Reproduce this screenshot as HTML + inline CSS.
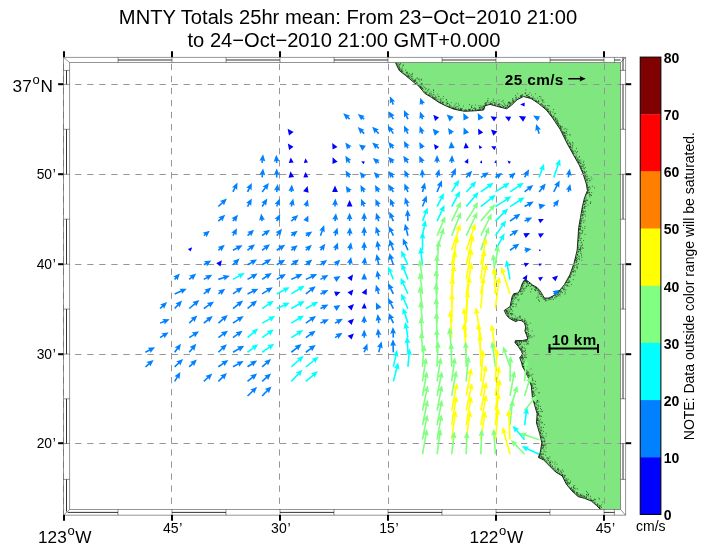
<!DOCTYPE html><html><head><meta charset="utf-8"><title>MNTY Totals</title>
<style>html,body{margin:0;padding:0;background:#fff}svg{display:block;opacity:0.9999;will-change:transform}text{font-family:"Liberation Sans",sans-serif;fill:#000}</style></head><body>
<svg width="703" height="548" viewBox="0 0 703 548">
<rect width="703" height="548" fill="#fff"/>
<polygon points="395.4,62.5 399.2,70.4 405.6,75.5 413.3,81.9 418.4,85.7 424.8,93.4 431.2,97.2 438.9,102.4 446.6,106.2 454.2,109.3 464.5,111.3 474.7,110.8 483.7,110.0 485.0,105.7 490.1,104.4 496.5,106.2 506.7,108.8 511.8,104.9 517.0,99.8 523.4,96.5 531.0,98.5 538.7,103.6 546.4,110.0 552.4,117.7 560.1,129.2 567.0,143.2 574.1,156.0 579.2,165.0 583.1,173.9 586.4,184.1 587.4,190.5 584.4,198.2 582.3,207.1 580.5,217.4 578.7,227.6 578.0,237.8 577.2,250.0 574.1,263.0 570.0,274.5 564.4,284.7 558.0,292.4 553.1,295.9 548.8,298.0 544.6,298.2 542.8,295.4 540.3,291.1 536.8,287.3 532.6,285.1 528.7,281.7 525.7,279.8 524.0,280.4 521.9,284.3 520.6,288.6 518.4,292.9 513.7,293.7 512.0,297.1 511.1,301.4 510.1,306.6 506.9,308.7 504.3,310.4 506.0,314.3 508.6,317.7 512.9,320.3 515.9,321.6 518.4,320.2 521.4,320.7 524.4,322.6 525.7,326.9 524.9,331.1 526.6,335.0 527.8,339.3 522.3,340.6 515.4,340.6 515.0,342.7 518.4,346.6 521.4,351.3 522.7,354.3 519.7,357.7 521.4,362.0 522.7,367.0 524.7,370.4 527.8,376.6 531.3,385.9 532.3,396.5 534.4,404.4 537.1,413.7 536.5,423.0 539.7,433.6 541.8,442.8 540.3,452.1 538.4,457.4 543.7,460.0 549.0,465.3 555.6,472.0 562.2,475.9 566.2,483.9 571.5,490.5 578.1,496.6 584.7,498.4 591.4,501.1 596.6,505.6 600.5,509.5 620.5,509.5 620.5,62.5" fill="#80e680"/>
<clipPath id="lc"><polygon points="395.4,62.5 399.2,70.4 405.6,75.5 413.3,81.9 418.4,85.7 424.8,93.4 431.2,97.2 438.9,102.4 446.6,106.2 454.2,109.3 464.5,111.3 474.7,110.8 483.7,110.0 485.0,105.7 490.1,104.4 496.5,106.2 506.7,108.8 511.8,104.9 517.0,99.8 523.4,96.5 531.0,98.5 538.7,103.6 546.4,110.0 552.4,117.7 560.1,129.2 567.0,143.2 574.1,156.0 579.2,165.0 583.1,173.9 586.4,184.1 587.4,190.5 584.4,198.2 582.3,207.1 580.5,217.4 578.7,227.6 578.0,237.8 577.2,250.0 574.1,263.0 570.0,274.5 564.4,284.7 558.0,292.4 553.1,295.9 548.8,298.0 544.6,298.2 542.8,295.4 540.3,291.1 536.8,287.3 532.6,285.1 528.7,281.7 525.7,279.8 524.0,280.4 521.9,284.3 520.6,288.6 518.4,292.9 513.7,293.7 512.0,297.1 511.1,301.4 510.1,306.6 506.9,308.7 504.3,310.4 506.0,314.3 508.6,317.7 512.9,320.3 515.9,321.6 518.4,320.2 521.4,320.7 524.4,322.6 525.7,326.9 524.9,331.1 526.6,335.0 527.8,339.3 522.3,340.6 515.4,340.6 515.0,342.7 518.4,346.6 521.4,351.3 522.7,354.3 519.7,357.7 521.4,362.0 522.7,367.0 524.7,370.4 527.8,376.6 531.3,385.9 532.3,396.5 534.4,404.4 537.1,413.7 536.5,423.0 539.7,433.6 541.8,442.8 540.3,452.1 538.4,457.4 543.7,460.0 549.0,465.3 555.6,472.0 562.2,475.9 566.2,483.9 571.5,490.5 578.1,496.6 584.7,498.4 591.4,501.1 596.6,505.6 600.5,509.5 620.5,509.5 620.5,62.5"/></clipPath>
<g clip-path="url(#lc)"><path d="M397.3 64.5h.1M398.2 66.2h.1M396.5 62.0h.1M400.1 64.1h.1M403.2 64.8h.1M399.7 69.9h.1M396.3 63.6h.1M397.9 63.0h.1M397.6 66.5h.1M399.1 67.3h.1M398.2 65.8h.1M398.1 63.8h.1M399.3 67.6h.1M399.5 64.5h.1M397.9 61.8h.1M399.8 69.0h.1M399.1 66.7h.1M399.1 65.3h.1M399.3 68.7h.1M396.6 61.8h.1M398.2 61.5h.1M400.4 63.7h.1M405.6 70.0h.1M401.7 71.0h.1M405.5 74.6h.1M401.7 70.2h.1M400.0 69.4h.1M406.9 73.4h.1M404.0 73.7h.1M406.8 72.2h.1M401.0 68.9h.1M400.8 70.7h.1M399.3 69.8h.1M402.1 67.0h.1M401.4 70.6h.1M402.9 71.3h.1M402.1 71.3h.1M403.1 65.6h.1M402.9 73.2h.1M406.2 72.7h.1M402.2 69.0h.1M402.0 71.8h.1M407.0 72.2h.1M408.3 75.4h.1M406.3 75.1h.1M414.1 80.8h.1M413.5 80.6h.1M407.7 76.4h.1M413.1 79.9h.1M408.0 74.4h.1M412.2 79.3h.1M410.6 75.0h.1M412.6 73.4h.1M407.2 76.0h.1M409.3 73.7h.1M409.2 76.1h.1M414.6 80.2h.1M411.8 74.9h.1M408.0 76.4h.1M408.2 76.4h.1M409.3 76.9h.1M412.1 74.3h.1M409.8 78.4h.1M407.6 72.9h.1M412.3 78.7h.1M411.7 76.6h.1M408.3 76.4h.1M412.1 76.7h.1M411.4 78.3h.1M410.2 77.3h.1M419.7 81.0h.1M419.8 79.2h.1M414.5 81.1h.1M415.3 80.5h.1M415.8 80.1h.1M421.7 80.1h.1M416.6 82.4h.1M415.0 81.3h.1M415.0 81.5h.1M416.7 82.8h.1M417.2 83.2h.1M421.3 79.1h.1M415.3 79.3h.1M418.6 79.4h.1M417.1 78.5h.1M414.1 81.9h.1M417.1 77.9h.1M421.7 84.0h.1M422.2 88.8h.1M420.6 87.2h.1M419.3 86.0h.1M421.3 87.3h.1M422.0 88.8h.1M420.4 87.4h.1M421.0 85.9h.1M424.7 91.3h.1M422.3 88.0h.1M423.6 86.1h.1M421.6 87.9h.1M420.9 84.2h.1M422.1 84.0h.1M420.7 87.3h.1M420.4 86.3h.1M425.9 92.3h.1M421.0 87.3h.1M422.5 88.3h.1M418.9 85.1h.1M418.8 85.6h.1M423.6 89.2h.1M426.2 88.4h.1M425.3 93.0h.1M421.8 83.7h.1M425.6 89.1h.1M424.7 87.4h.1M431.0 91.8h.1M426.2 93.9h.1M427.4 90.7h.1M430.1 93.4h.1M431.4 93.9h.1M429.4 95.4h.1M425.9 92.7h.1M433.3 89.8h.1M429.3 93.2h.1M428.9 95.3h.1M430.1 95.1h.1M425.7 93.0h.1M429.6 95.1h.1M428.3 94.5h.1M433.6 92.3h.1M433.5 90.5h.1M428.9 89.2h.1M426.9 92.2h.1M431.1 95.2h.1M428.6 90.0h.1M432.1 95.8h.1M432.8 97.2h.1M433.1 94.5h.1M440.1 99.7h.1M435.1 98.2h.1M434.6 97.7h.1M433.9 94.9h.1M433.6 97.6h.1M437.8 94.2h.1M439.1 96.4h.1M437.1 100.6h.1M438.1 99.0h.1M438.6 101.5h.1M435.4 96.2h.1M436.8 99.7h.1M432.7 97.8h.1M435.7 99.4h.1M434.8 98.8h.1M433.9 98.4h.1M438.2 96.4h.1M435.3 97.8h.1M432.5 96.5h.1M436.5 97.8h.1M433.7 97.9h.1M440.9 98.7h.1M440.6 100.1h.1M443.5 104.6h.1M447.3 101.8h.1M440.0 102.4h.1M447.4 103.7h.1M443.0 102.7h.1M443.0 98.6h.1M440.3 102.2h.1M440.0 102.5h.1M442.3 102.9h.1M442.1 102.3h.1M446.2 104.2h.1M447.3 103.4h.1M443.8 102.0h.1M446.2 100.0h.1M442.2 102.3h.1M446.3 102.7h.1M447.0 105.0h.1M441.8 100.8h.1M442.9 103.6h.1M446.4 99.5h.1M443.5 96.4h.1M440.2 101.7h.1M453.9 108.4h.1M452.5 108.1h.1M449.6 106.1h.1M449.4 105.8h.1M454.1 108.7h.1M453.1 107.5h.1M451.2 102.6h.1M453.5 108.8h.1M452.3 108.0h.1M454.1 108.5h.1M449.8 106.5h.1M449.5 104.4h.1M448.0 103.5h.1M453.7 108.8h.1M456.1 103.3h.1M450.7 105.9h.1M454.0 106.2h.1M451.5 107.0h.1M452.5 108.4h.1M448.4 106.6h.1M456.8 109.4h.1M461.6 109.3h.1M461.2 108.4h.1M461.4 110.0h.1M460.4 109.1h.1M456.7 109.2h.1M460.3 109.7h.1M459.8 109.6h.1M464.5 111.0h.1M463.5 106.0h.1M455.8 108.9h.1M464.2 110.0h.1M457.7 106.5h.1M460.6 108.3h.1M455.6 108.9h.1M460.8 109.8h.1M461.2 109.8h.1M462.5 108.9h.1M458.7 108.1h.1M456.3 107.0h.1M458.4 104.0h.1M458.3 109.0h.1M458.2 109.1h.1M455.1 104.9h.1M459.2 105.6h.1M454.8 107.8h.1M455.4 107.4h.1M466.0 110.6h.1M465.7 109.9h.1M466.8 110.9h.1M469.7 110.6h.1M473.8 108.5h.1M472.4 110.3h.1M472.8 110.1h.1M469.5 109.7h.1M471.4 106.4h.1M472.4 110.3h.1M470.6 109.1h.1M468.6 109.2h.1M468.7 109.8h.1M469.6 110.4h.1M469.1 110.2h.1M465.5 109.8h.1M469.8 110.4h.1M471.8 107.5h.1M469.9 109.6h.1M471.6 107.7h.1M469.5 104.6h.1M472.0 105.5h.1M472.4 110.2h.1M472.8 110.6h.1M466.6 110.2h.1M464.6 110.9h.1M480.2 105.9h.1M475.7 108.9h.1M482.4 108.5h.1M480.4 108.9h.1M483.4 108.2h.1M478.8 109.5h.1M482.1 109.6h.1M479.7 107.7h.1M475.0 110.1h.1M478.7 105.7h.1M480.2 109.8h.1M475.4 109.6h.1M480.0 109.6h.1M475.3 105.0h.1M475.6 108.7h.1M477.9 109.7h.1M479.7 109.2h.1M482.7 107.5h.1M474.9 108.9h.1M474.7 107.6h.1M482.9 109.5h.1M479.3 108.0h.1M477.1 109.8h.1M481.8 106.1h.1M483.4 106.3h.1M483.3 108.6h.1M481.4 107.9h.1M483.8 106.6h.1M482.9 106.2h.1M484.5 105.3h.1M483.4 108.9h.1M483.9 106.4h.1M479.5 107.7h.1M480.8 107.1h.1M486.6 102.4h.1M485.3 103.6h.1M485.4 105.4h.1M486.3 104.4h.1M488.1 102.8h.1M484.8 103.9h.1M487.8 100.5h.1M488.0 98.7h.1M485.7 105.4h.1M487.4 101.2h.1M485.5 104.9h.1M486.0 103.8h.1M485.7 102.6h.1M489.7 102.9h.1M490.6 103.4h.1M493.1 102.3h.1M495.9 105.3h.1M490.5 104.0h.1M490.6 103.1h.1M491.6 103.4h.1M493.2 99.1h.1M494.8 104.2h.1M491.6 101.6h.1M494.4 104.4h.1M496.2 105.3h.1M491.9 103.9h.1M493.6 100.8h.1M494.5 102.6h.1M492.4 104.2h.1M494.9 102.8h.1M495.4 103.9h.1M505.5 107.6h.1M504.4 104.1h.1M499.3 105.6h.1M500.3 106.5h.1M498.9 100.1h.1M507.5 105.5h.1M498.8 104.4h.1M500.5 107.0h.1M504.1 106.4h.1M498.4 104.7h.1M506.1 107.4h.1M501.1 106.8h.1M505.2 105.8h.1M503.3 106.5h.1M498.0 105.3h.1M503.1 107.0h.1M503.3 106.8h.1M499.1 104.4h.1M503.0 100.4h.1M499.2 103.5h.1M498.0 104.7h.1M502.5 105.4h.1M502.0 101.6h.1M501.0 104.6h.1M500.1 106.7h.1M496.9 105.1h.1M500.1 106.4h.1M506.3 107.2h.1M508.0 106.8h.1M509.5 103.9h.1M503.7 102.8h.1M508.7 102.7h.1M509.4 106.1h.1M510.4 104.6h.1M508.2 106.7h.1M507.5 107.0h.1M507.6 105.3h.1M508.8 102.2h.1M509.2 102.9h.1M509.4 106.3h.1M509.3 105.4h.1M505.9 105.2h.1M509.1 102.9h.1M508.0 104.1h.1M508.2 102.8h.1M512.5 100.4h.1M513.9 101.2h.1M514.1 101.9h.1M513.3 101.5h.1M509.2 102.2h.1M512.5 98.8h.1M516.6 99.8h.1M510.6 103.5h.1M513.6 100.9h.1M513.9 99.9h.1M512.7 102.1h.1M511.9 102.9h.1M515.6 99.9h.1M513.8 102.0h.1M512.8 99.1h.1M512.1 102.1h.1M510.3 102.8h.1M511.1 103.8h.1M522.0 95.1h.1M521.9 95.0h.1M520.6 95.5h.1M520.8 96.1h.1M518.2 99.1h.1M520.9 96.8h.1M520.1 97.1h.1M518.5 97.8h.1M516.2 97.7h.1M521.6 95.4h.1M516.6 98.9h.1M522.5 95.0h.1M520.6 96.7h.1M515.7 97.9h.1M515.4 95.5h.1M521.4 96.5h.1M516.0 97.1h.1M521.5 97.1h.1M517.3 93.7h.1M528.6 97.7h.1M529.6 97.8h.1M525.7 92.7h.1M526.6 95.5h.1M525.3 93.7h.1M528.5 96.6h.1M531.4 95.2h.1M525.8 89.8h.1M526.7 95.4h.1M528.2 97.0h.1M527.0 95.1h.1M529.5 97.1h.1M527.3 95.7h.1M524.9 93.2h.1M528.2 96.9h.1M529.8 92.8h.1M528.3 94.5h.1M530.8 97.7h.1M527.0 96.9h.1M529.5 96.8h.1M529.5 97.5h.1M538.7 101.6h.1M532.7 99.0h.1M534.8 98.8h.1M532.7 98.9h.1M533.2 97.0h.1M536.2 100.3h.1M538.6 101.5h.1M538.0 101.5h.1M540.8 96.9h.1M532.7 98.7h.1M537.6 98.1h.1M538.3 102.7h.1M535.3 93.8h.1M539.5 96.5h.1M535.1 100.6h.1M532.8 99.2h.1M540.8 98.9h.1M538.6 100.6h.1M531.9 98.6h.1M536.8 101.3h.1M532.2 97.9h.1M534.9 100.2h.1M536.5 101.5h.1M542.2 100.0h.1M548.0 105.7h.1M543.1 100.2h.1M543.1 105.6h.1M543.7 106.9h.1M545.2 107.0h.1M541.4 104.2h.1M545.7 108.1h.1M543.9 102.3h.1M542.2 100.3h.1M542.8 105.8h.1M549.5 105.8h.1M546.0 108.9h.1M546.6 109.5h.1M540.2 104.3h.1M541.3 103.6h.1M543.3 107.0h.1M544.4 107.4h.1M544.3 106.1h.1M545.3 105.5h.1M540.7 104.5h.1M544.7 107.8h.1M547.8 105.5h.1M546.9 108.1h.1M542.4 101.8h.1M542.5 104.4h.1M550.2 112.5h.1M554.4 113.9h.1M550.7 111.4h.1M553.4 116.4h.1M550.2 113.8h.1M547.7 111.3h.1M547.1 109.7h.1M548.2 108.9h.1M551.2 115.2h.1M547.1 110.0h.1M548.5 111.6h.1M552.9 112.1h.1M551.6 115.6h.1M550.0 112.2h.1M553.4 109.5h.1M548.7 111.5h.1M555.3 113.4h.1M548.3 109.6h.1M549.0 111.0h.1M549.9 113.8h.1M547.3 110.0h.1M553.9 116.1h.1M552.1 116.4h.1M551.2 114.9h.1M550.8 114.2h.1M552.7 116.8h.1M555.3 118.0h.1M555.7 119.7h.1M553.7 118.8h.1M555.1 120.6h.1M560.6 126.3h.1M556.1 118.6h.1M558.3 123.8h.1M555.4 119.4h.1M553.6 117.1h.1M557.9 123.5h.1M557.1 119.1h.1M560.0 126.9h.1M557.9 121.0h.1M561.9 127.0h.1M557.2 120.6h.1M560.3 126.4h.1M559.7 125.7h.1M560.1 127.6h.1M559.9 125.7h.1M558.1 123.8h.1M558.1 124.0h.1M558.7 125.5h.1M556.4 121.8h.1M557.2 122.5h.1M555.2 118.0h.1M560.6 127.9h.1M560.3 128.6h.1M552.8 117.6h.1M562.1 126.8h.1M557.9 122.6h.1M556.7 121.0h.1M558.8 124.4h.1M557.1 121.5h.1M561.1 128.0h.1M561.0 128.7h.1M554.9 119.3h.1M557.0 123.4h.1M567.2 140.9h.1M564.9 135.4h.1M566.2 137.4h.1M564.8 138.1h.1M564.2 132.3h.1M567.8 139.9h.1M565.0 135.4h.1M565.0 136.5h.1M565.6 139.4h.1M567.0 135.1h.1M561.0 129.8h.1M565.9 138.6h.1M565.1 128.4h.1M564.0 135.2h.1M569.8 134.6h.1M562.4 132.7h.1M566.6 131.4h.1M570.0 135.1h.1M563.0 131.9h.1M566.0 131.8h.1M562.3 132.1h.1M567.7 142.1h.1M564.8 135.9h.1M564.1 129.2h.1M562.1 131.2h.1M565.5 138.1h.1M561.7 129.9h.1M566.7 133.5h.1M564.9 133.2h.1M566.9 129.3h.1M563.9 135.1h.1M568.0 140.8h.1M565.2 137.2h.1M565.1 135.8h.1M564.9 133.4h.1M563.0 134.7h.1M564.2 132.7h.1M563.9 133.3h.1M562.7 133.3h.1M563.4 132.8h.1M576.6 152.4h.1M569.5 142.3h.1M572.1 147.2h.1M574.1 153.3h.1M572.3 142.4h.1M567.4 143.4h.1M569.9 146.4h.1M572.3 151.1h.1M572.8 152.1h.1M569.9 147.7h.1M569.6 146.7h.1M567.8 143.6h.1M573.0 143.2h.1M573.2 151.7h.1M569.7 146.5h.1M576.0 154.1h.1M572.5 150.7h.1M571.8 147.7h.1M572.9 152.9h.1M570.7 145.8h.1M571.3 149.7h.1M570.4 147.9h.1M574.0 150.9h.1M572.2 149.0h.1M572.8 144.9h.1M572.5 145.9h.1M570.3 144.2h.1M575.4 151.1h.1M569.9 147.3h.1M570.6 144.2h.1M570.5 146.4h.1M568.1 144.1h.1M570.2 143.0h.1M569.1 143.6h.1M571.4 150.1h.1M576.4 148.4h.1M569.0 146.2h.1M573.6 153.6h.1M577.4 151.6h.1M580.7 161.9h.1M579.1 162.9h.1M579.0 157.2h.1M579.1 160.2h.1M583.8 161.3h.1M575.8 156.7h.1M578.1 162.2h.1M574.8 156.4h.1M578.3 162.6h.1M579.2 162.5h.1M577.8 159.9h.1M580.9 160.0h.1M576.9 157.9h.1M575.4 157.5h.1M583.5 162.6h.1M581.1 163.3h.1M579.2 161.1h.1M580.4 163.7h.1M579.4 156.7h.1M578.6 161.5h.1M577.6 158.4h.1M577.8 160.3h.1M580.0 163.3h.1M575.8 157.9h.1M578.0 159.5h.1M576.2 155.9h.1M576.5 159.7h.1M584.0 168.6h.1M585.3 172.9h.1M581.6 168.3h.1M582.9 171.4h.1M580.9 166.7h.1M581.1 166.5h.1M584.9 172.1h.1M586.4 171.6h.1M583.4 167.0h.1M580.9 165.9h.1M582.4 171.0h.1M584.2 168.8h.1M582.4 170.6h.1M584.0 171.4h.1M582.5 164.7h.1M582.6 166.4h.1M584.3 172.3h.1M583.1 173.1h.1M585.2 167.5h.1M583.3 165.1h.1M581.8 168.9h.1M584.3 171.8h.1M584.3 164.8h.1M580.9 166.1h.1M581.5 168.0h.1M580.8 168.1h.1M583.9 174.0h.1M585.4 176.2h.1M591.1 177.1h.1M588.1 178.8h.1M587.2 179.5h.1M590.0 180.8h.1M587.1 176.1h.1M586.3 180.0h.1M584.2 174.5h.1M585.6 178.3h.1M584.5 177.5h.1M586.0 178.0h.1M583.9 175.4h.1M587.5 180.7h.1M587.8 182.5h.1M587.2 176.8h.1M585.0 174.0h.1M584.1 176.3h.1M586.1 180.7h.1M589.1 178.6h.1M591.8 179.1h.1M589.7 180.6h.1M585.6 175.4h.1M586.8 183.2h.1M586.6 180.0h.1M584.3 174.2h.1M585.8 176.7h.1M587.4 187.1h.1M587.9 190.5h.1M587.0 185.9h.1M587.8 188.9h.1M588.9 187.3h.1M588.2 187.6h.1M590.3 188.1h.1M594.6 187.8h.1M592.3 186.3h.1M589.3 186.7h.1M588.3 190.1h.1M586.7 184.2h.1M587.9 187.5h.1M587.4 185.2h.1M587.1 184.9h.1M589.1 190.0h.1M588.5 189.2h.1M589.4 192.4h.1M589.7 195.1h.1M591.2 195.6h.1M587.4 192.5h.1M587.5 192.6h.1M588.3 193.1h.1M585.8 197.7h.1M587.5 193.3h.1M589.3 192.6h.1M589.6 196.8h.1M589.5 194.2h.1M586.6 193.2h.1M591.7 192.5h.1M587.8 191.2h.1M591.2 195.2h.1M584.6 198.4h.1M585.7 195.8h.1M586.3 194.3h.1M590.2 194.5h.1M588.1 192.2h.1M586.9 199.9h.1M585.5 201.6h.1M590.8 201.8h.1M584.3 200.5h.1M585.9 199.0h.1M584.1 201.6h.1M585.1 203.7h.1M585.1 206.5h.1M590.4 203.5h.1M584.4 201.7h.1M588.1 204.9h.1M584.2 201.5h.1M586.0 206.2h.1M584.0 204.6h.1M590.3 202.8h.1M584.3 206.5h.1M586.2 200.7h.1M584.1 204.9h.1M584.1 204.5h.1M585.8 200.9h.1M586.1 203.0h.1M584.8 200.3h.1M585.2 203.1h.1M587.5 200.6h.1M585.5 216.1h.1M585.4 211.4h.1M582.6 208.7h.1M582.5 215.4h.1M582.4 214.7h.1M581.6 214.9h.1M582.1 212.5h.1M581.8 211.1h.1M583.0 207.7h.1M582.7 210.3h.1M584.9 214.3h.1M582.9 215.4h.1M582.8 211.7h.1M584.0 211.6h.1M583.8 211.2h.1M583.1 217.7h.1M582.3 210.5h.1M583.2 212.9h.1M584.2 207.7h.1M582.1 216.2h.1M583.1 212.1h.1M583.9 214.2h.1M583.0 214.6h.1M582.6 208.6h.1M582.7 208.3h.1M584.8 208.1h.1M584.6 208.2h.1M582.4 228.0h.1M581.3 221.4h.1M580.8 220.2h.1M580.8 226.4h.1M581.6 218.3h.1M579.6 226.0h.1M580.7 223.1h.1M580.8 223.4h.1M580.4 227.0h.1M580.9 223.0h.1M583.2 220.9h.1M581.0 226.2h.1M583.7 222.6h.1M580.0 223.7h.1M580.3 223.6h.1M580.7 226.0h.1M580.9 220.3h.1M579.3 226.6h.1M585.0 226.5h.1M584.9 220.7h.1M582.6 218.6h.1M580.8 220.4h.1M580.3 223.1h.1M579.8 226.4h.1M580.1 221.5h.1M581.6 220.0h.1M580.6 224.8h.1M578.9 236.4h.1M579.6 237.2h.1M580.0 235.1h.1M582.5 232.8h.1M579.1 228.8h.1M579.2 236.0h.1M585.0 234.4h.1M578.5 234.3h.1M581.2 230.5h.1M579.0 230.4h.1M581.6 233.4h.1M580.1 228.1h.1M580.5 229.0h.1M578.7 234.7h.1M582.5 231.2h.1M579.3 228.9h.1M579.9 232.8h.1M580.3 229.3h.1M579.7 229.5h.1M582.7 230.6h.1M584.4 228.3h.1M580.7 233.7h.1M579.2 229.2h.1M579.5 232.7h.1M579.2 233.7h.1M578.5 234.9h.1M578.5 237.8h.1M578.6 247.8h.1M577.8 249.0h.1M578.0 242.9h.1M578.0 245.9h.1M578.5 240.6h.1M580.5 250.2h.1M582.4 247.7h.1M580.2 240.5h.1M580.5 238.9h.1M579.8 249.5h.1M583.1 248.4h.1M580.8 248.1h.1M580.8 248.0h.1M579.2 249.4h.1M580.3 250.0h.1M578.5 240.5h.1M582.5 244.3h.1M581.1 242.9h.1M580.8 249.3h.1M581.1 246.1h.1M580.3 248.2h.1M578.7 238.0h.1M578.9 245.1h.1M581.6 242.2h.1M578.9 238.9h.1M580.7 246.2h.1M581.4 238.4h.1M578.2 249.8h.1M582.0 245.5h.1M579.2 249.4h.1M578.0 247.7h.1M583.6 240.5h.1M578.7 241.0h.1M576.1 261.9h.1M576.5 262.2h.1M581.9 257.3h.1M576.4 258.6h.1M575.9 262.5h.1M580.8 251.6h.1M578.9 256.6h.1M575.1 259.6h.1M578.4 263.5h.1M575.7 257.7h.1M576.3 258.4h.1M577.1 257.5h.1M577.0 261.3h.1M577.3 259.6h.1M579.1 258.2h.1M578.6 252.0h.1M575.4 259.5h.1M577.7 254.4h.1M577.9 252.5h.1M577.3 254.4h.1M577.4 255.3h.1M581.3 254.0h.1M578.2 258.8h.1M576.4 260.3h.1M575.7 260.2h.1M576.6 257.0h.1M575.4 260.2h.1M581.5 255.8h.1M578.9 251.4h.1M579.0 256.0h.1M581.9 260.1h.1M576.3 260.5h.1M577.5 254.6h.1M580.7 253.4h.1M579.5 259.7h.1M578.3 251.4h.1M573.1 271.4h.1M576.8 267.6h.1M575.9 265.5h.1M574.9 275.1h.1M575.3 272.0h.1M573.1 271.5h.1M574.9 271.0h.1M573.7 266.0h.1M572.0 272.4h.1M571.4 273.1h.1M574.1 264.9h.1M574.8 270.7h.1M574.5 264.4h.1M574.4 267.6h.1M577.0 266.7h.1M576.7 264.4h.1M572.8 268.2h.1M572.9 270.2h.1M577.4 267.2h.1M571.4 274.2h.1M572.7 268.8h.1M572.5 271.4h.1M573.1 268.1h.1M573.1 269.5h.1M574.2 265.7h.1M573.1 275.4h.1M573.4 272.0h.1M578.0 264.6h.1M573.9 266.5h.1M570.7 274.5h.1M577.2 268.6h.1M574.0 264.5h.1M567.8 285.6h.1M569.8 276.1h.1M569.3 277.3h.1M571.4 284.5h.1M567.2 282.8h.1M569.4 276.1h.1M568.4 278.7h.1M568.0 279.4h.1M570.6 276.0h.1M569.1 280.4h.1M565.8 284.4h.1M569.9 276.2h.1M568.7 282.0h.1M566.3 282.0h.1M568.4 282.7h.1M567.2 282.5h.1M566.9 281.1h.1M570.0 277.6h.1M568.7 282.1h.1M567.2 285.8h.1M573.2 279.6h.1M567.0 284.9h.1M569.6 276.0h.1M566.7 285.9h.1M570.3 277.1h.1M569.1 286.2h.1M570.0 282.0h.1M569.4 281.9h.1M567.7 280.2h.1M566.3 282.5h.1M562.0 288.4h.1M562.3 288.4h.1M562.7 287.9h.1M559.3 291.4h.1M560.0 291.2h.1M559.5 290.6h.1M561.5 291.3h.1M563.5 289.4h.1M562.5 292.7h.1M560.2 290.7h.1M564.8 291.0h.1M563.4 289.7h.1M562.7 288.0h.1M560.2 293.9h.1M560.1 291.0h.1M565.1 285.6h.1M564.8 289.4h.1M560.4 292.1h.1M564.0 288.5h.1M558.7 292.6h.1M565.2 292.7h.1M565.0 294.2h.1M566.0 289.8h.1M564.5 287.1h.1M561.7 292.2h.1M559.2 294.4h.1M554.6 297.7h.1M556.4 296.3h.1M557.8 292.7h.1M558.7 294.2h.1M558.3 295.6h.1M557.4 294.5h.1M555.0 295.3h.1M554.3 295.4h.1M555.9 298.0h.1M558.6 292.8h.1M556.0 296.1h.1M557.9 293.2h.1M555.7 296.0h.1M560.0 295.9h.1M557.6 296.1h.1M552.5 297.2h.1M553.4 299.3h.1M550.0 298.0h.1M552.0 297.7h.1M549.6 298.3h.1M552.2 296.5h.1M552.0 299.0h.1M551.2 297.5h.1M552.7 296.5h.1M549.6 299.4h.1M550.9 299.4h.1M549.9 298.2h.1M548.0 298.5h.1M548.7 298.9h.1M545.7 298.5h.1M548.0 300.2h.1M544.5 299.4h.1M545.9 299.8h.1M545.6 299.9h.1M546.2 300.6h.1M545.2 301.0h.1M544.9 298.9h.1M544.9 298.4h.1M543.1 297.4h.1M538.8 299.7h.1M539.4 301.4h.1M538.7 300.3h.1M543.0 296.7h.1M541.4 296.5h.1M542.8 298.1h.1M543.4 299.0h.1M540.9 296.4h.1M538.9 294.2h.1M536.7 297.9h.1M540.0 293.9h.1M541.7 294.7h.1M538.0 296.1h.1M539.9 291.7h.1M538.1 297.4h.1M541.5 294.9h.1M540.5 294.6h.1M539.5 293.3h.1M539.6 293.8h.1M539.5 291.9h.1M537.9 289.2h.1M538.6 291.1h.1M538.0 292.7h.1M535.2 290.8h.1M536.1 290.1h.1M534.4 289.6h.1M536.3 288.2h.1M536.7 288.1h.1M535.5 290.5h.1M538.6 290.7h.1M537.6 290.5h.1M535.5 289.0h.1M538.3 289.6h.1M533.6 286.7h.1M531.9 289.0h.1M530.5 291.9h.1M535.3 287.5h.1M531.3 289.0h.1M536.1 288.7h.1M536.2 287.5h.1M536.3 288.1h.1M532.3 285.7h.1M532.3 285.7h.1M534.8 287.6h.1M536.2 287.3h.1M528.3 285.1h.1M529.0 283.3h.1M527.5 283.1h.1M529.2 283.5h.1M527.0 285.0h.1M530.3 286.6h.1M531.5 284.7h.1M531.6 284.9h.1M529.4 283.5h.1M528.4 285.5h.1M531.2 285.2h.1M526.9 286.4h.1M529.2 283.3h.1M524.6 283.6h.1M525.7 281.2h.1M527.2 283.1h.1M527.1 281.5h.1M526.7 281.4h.1M526.6 281.7h.1M525.8 280.6h.1M526.9 281.3h.1M527.1 282.6h.1M525.8 281.6h.1M524.8 280.7h.1M525.6 280.6h.1M526.0 281.2h.1M526.6 282.0h.1M524.7 281.6h.1M524.9 280.8h.1M524.0 281.0h.1M522.6 284.1h.1M523.8 282.4h.1M522.3 284.6h.1M526.3 286.4h.1M523.5 283.3h.1M522.8 283.8h.1M526.8 282.3h.1M523.3 285.6h.1M521.6 288.4h.1M522.1 286.2h.1M522.3 288.7h.1M525.8 288.2h.1M524.1 288.9h.1M522.4 286.0h.1M526.2 286.8h.1M523.4 289.2h.1M524.0 288.1h.1M522.4 287.3h.1M520.6 291.3h.1M522.4 293.8h.1M521.2 294.0h.1M524.2 290.7h.1M522.9 291.7h.1M520.9 289.8h.1M520.4 290.0h.1M521.0 288.9h.1M520.9 291.4h.1M522.1 290.9h.1M521.0 294.0h.1M519.8 291.5h.1M520.8 291.8h.1M515.3 294.1h.1M514.1 296.4h.1M518.5 295.0h.1M516.5 293.9h.1M514.7 294.8h.1M515.0 294.6h.1M516.7 294.7h.1M517.5 294.2h.1M517.8 294.9h.1M519.1 299.2h.1M515.0 294.2h.1M515.4 297.9h.1M513.7 294.8h.1M517.7 299.8h.1M513.4 296.1h.1M514.7 295.9h.1M514.5 295.6h.1M514.8 294.4h.1M514.1 294.7h.1M516.7 297.9h.1M515.2 297.6h.1M516.9 296.0h.1M512.3 301.2h.1M513.5 301.0h.1M514.5 299.0h.1M513.2 297.9h.1M512.4 297.8h.1M513.1 298.8h.1M518.6 300.7h.1M512.3 299.1h.1M512.4 298.2h.1M512.7 299.0h.1M511.4 305.4h.1M511.0 304.6h.1M513.1 303.6h.1M511.7 303.9h.1M516.0 306.3h.1M513.5 306.6h.1M516.5 304.2h.1M511.7 302.6h.1M512.1 301.7h.1M515.1 304.2h.1M512.4 306.6h.1M512.9 303.7h.1M511.9 303.8h.1M511.4 304.6h.1M510.7 308.9h.1M511.6 309.4h.1M510.5 307.6h.1M510.4 313.7h.1M512.6 311.0h.1M509.8 311.3h.1M509.0 311.2h.1M510.0 306.7h.1M508.8 309.7h.1M510.8 309.0h.1M506.3 310.3h.1M505.2 310.2h.1M507.3 311.7h.1M505.3 310.3h.1M506.4 310.9h.1M507.0 310.5h.1M507.3 313.0h.1M507.0 311.1h.1M506.9 313.0h.1M507.2 311.2h.1M511.1 309.7h.1M506.2 312.3h.1M509.0 312.8h.1M508.2 313.4h.1M506.5 310.8h.1M506.2 311.7h.1M508.4 313.0h.1M511.4 313.3h.1M509.0 316.9h.1M507.4 314.9h.1M508.7 316.3h.1M507.7 313.5h.1M508.4 316.2h.1M508.8 314.7h.1M510.4 313.6h.1M507.8 315.4h.1M508.4 316.4h.1M512.2 319.1h.1M511.2 315.3h.1M511.2 314.3h.1M511.5 317.8h.1M512.7 313.7h.1M512.2 319.4h.1M510.6 318.0h.1M512.7 318.9h.1M513.9 318.4h.1M512.4 317.8h.1M511.8 313.8h.1M512.2 319.1h.1M515.2 315.9h.1M514.9 319.6h.1M514.8 319.4h.1M515.8 318.0h.1M516.3 320.7h.1M514.4 318.6h.1M514.7 319.9h.1M513.7 319.6h.1M516.7 319.5h.1M516.8 319.3h.1M515.7 319.6h.1M512.8 314.7h.1M516.9 320.0h.1M516.9 318.6h.1M517.3 317.8h.1M515.6 320.2h.1M520.1 320.4h.1M520.5 316.8h.1M519.3 316.9h.1M519.9 316.0h.1M521.6 319.2h.1M519.1 317.2h.1M520.2 318.4h.1M525.6 320.6h.1M524.5 320.8h.1M522.3 320.5h.1M524.8 319.0h.1M524.1 320.2h.1M521.6 320.2h.1M524.3 321.3h.1M522.4 319.5h.1M524.2 321.7h.1M526.8 324.1h.1M524.8 323.2h.1M526.7 322.2h.1M530.2 323.0h.1M526.0 323.7h.1M525.3 324.0h.1M527.5 325.7h.1M526.0 322.1h.1M528.0 324.8h.1M526.7 324.8h.1M525.7 326.3h.1M525.2 323.6h.1M526.4 328.3h.1M527.8 328.8h.1M527.7 327.8h.1M527.2 327.4h.1M526.9 329.9h.1M528.4 331.3h.1M526.0 329.2h.1M532.2 330.8h.1M525.5 330.1h.1M527.8 330.0h.1M527.9 329.2h.1M525.7 332.8h.1M528.2 333.8h.1M526.5 333.8h.1M525.2 331.2h.1M527.8 334.7h.1M528.5 333.8h.1M528.1 334.1h.1M526.6 332.6h.1M526.5 333.1h.1M527.1 332.3h.1M526.8 332.9h.1M529.0 338.2h.1M528.2 336.8h.1M530.9 337.2h.1M528.2 335.4h.1M530.0 335.6h.1M530.1 335.2h.1M529.7 336.8h.1M527.7 336.5h.1M534.1 335.9h.1M527.7 336.5h.1M528.2 336.8h.1M532.1 337.0h.1M525.6 341.5h.1M526.8 340.4h.1M523.6 341.7h.1M525.8 340.5h.1M528.2 344.0h.1M524.4 340.8h.1M525.7 340.3h.1M526.6 341.9h.1M528.3 341.6h.1M527.9 343.3h.1M524.9 341.7h.1M526.6 341.9h.1M527.2 340.1h.1M526.7 344.7h.1M527.2 343.5h.1M519.9 341.2h.1M520.4 344.0h.1M521.8 341.9h.1M517.0 344.3h.1M516.6 341.3h.1M521.5 341.8h.1M521.6 341.0h.1M518.9 341.6h.1M515.5 341.2h.1M519.6 344.9h.1M519.9 341.7h.1M520.6 341.0h.1M521.5 342.8h.1M519.9 344.4h.1M515.6 341.5h.1M517.7 342.9h.1M520.7 344.1h.1M517.7 341.7h.1M517.6 343.1h.1M515.7 341.8h.1M516.1 342.0h.1M515.8 341.9h.1M517.3 344.5h.1M516.3 342.6h.1M519.5 342.9h.1M519.3 342.2h.1M517.6 343.4h.1M517.7 344.6h.1M523.7 341.5h.1M518.6 345.6h.1M518.4 340.0h.1M518.9 344.1h.1M518.6 345.4h.1M515.6 342.4h.1M516.1 342.9h.1M524.9 348.6h.1M521.8 350.0h.1M521.0 349.9h.1M522.0 347.9h.1M521.9 349.1h.1M524.1 344.3h.1M521.7 350.0h.1M520.0 347.2h.1M521.0 348.3h.1M524.1 347.6h.1M521.9 346.7h.1M520.7 348.7h.1M522.5 347.4h.1M522.1 346.3h.1M521.5 348.8h.1M522.7 351.6h.1M525.1 350.7h.1M522.9 352.8h.1M525.6 352.8h.1M524.5 351.5h.1M522.7 350.9h.1M525.4 350.1h.1M523.2 351.1h.1M522.1 357.3h.1M526.5 357.6h.1M521.8 358.0h.1M521.2 357.5h.1M522.6 357.7h.1M524.3 355.8h.1M522.9 358.2h.1M520.2 357.3h.1M522.3 355.3h.1M522.8 356.5h.1M520.8 356.8h.1M522.2 355.9h.1M521.8 361.9h.1M525.3 357.4h.1M525.3 355.8h.1M523.5 358.4h.1M521.4 357.9h.1M522.5 359.9h.1M522.1 357.8h.1M524.6 357.4h.1M523.0 359.6h.1M521.0 358.0h.1M522.2 357.8h.1M520.9 357.3h.1M522.5 363.4h.1M523.4 365.9h.1M524.0 362.1h.1M524.0 361.2h.1M523.4 363.3h.1M523.3 364.3h.1M523.0 363.9h.1M525.8 364.5h.1M522.0 363.2h.1M523.2 366.3h.1M522.4 363.2h.1M526.9 365.6h.1M522.3 364.2h.1M525.1 366.8h.1M524.9 370.0h.1M523.5 366.4h.1M523.1 366.5h.1M523.5 366.7h.1M525.3 369.0h.1M524.9 369.4h.1M525.8 369.8h.1M523.4 367.2h.1M524.9 368.8h.1M526.9 372.6h.1M527.3 371.3h.1M526.7 373.1h.1M528.6 372.3h.1M528.6 375.8h.1M532.8 374.2h.1M527.6 374.0h.1M528.6 374.8h.1M526.1 370.9h.1M528.3 372.2h.1M526.5 370.5h.1M525.7 370.3h.1M527.2 372.6h.1M527.9 373.9h.1M530.9 369.1h.1M529.3 375.7h.1M529.7 374.0h.1M528.4 375.4h.1M530.2 379.3h.1M532.8 383.4h.1M530.4 381.4h.1M530.7 377.3h.1M532.5 378.2h.1M529.4 380.1h.1M531.6 375.0h.1M531.8 385.0h.1M530.7 376.6h.1M529.8 378.5h.1M535.2 384.4h.1M530.5 376.0h.1M532.8 380.5h.1M529.7 378.8h.1M532.8 380.9h.1M534.3 383.8h.1M531.9 384.7h.1M535.4 381.4h.1M534.0 384.2h.1M531.2 383.4h.1M531.5 384.1h.1M528.8 377.5h.1M532.5 379.4h.1M531.6 385.4h.1M529.3 376.5h.1M535.8 390.0h.1M532.5 388.3h.1M533.5 392.7h.1M532.9 396.1h.1M531.8 387.1h.1M538.9 392.7h.1M532.1 391.9h.1M532.4 392.4h.1M532.8 391.1h.1M533.9 394.3h.1M532.7 394.0h.1M536.9 388.6h.1M533.4 388.2h.1M534.1 393.8h.1M534.4 395.6h.1M532.6 396.4h.1M539.0 392.9h.1M533.8 392.7h.1M532.6 385.7h.1M532.5 394.4h.1M532.6 388.4h.1M533.8 391.4h.1M535.7 395.6h.1M532.9 391.4h.1M533.5 387.8h.1M532.2 386.3h.1M535.2 387.3h.1M534.6 403.5h.1M533.7 397.4h.1M535.8 396.4h.1M537.3 402.3h.1M534.5 402.9h.1M534.7 403.1h.1M537.5 400.5h.1M538.9 401.9h.1M537.5 400.8h.1M534.3 398.2h.1M535.1 403.4h.1M535.8 396.5h.1M533.6 397.0h.1M534.4 402.7h.1M534.5 403.4h.1M534.6 396.5h.1M537.7 400.6h.1M533.3 396.6h.1M536.9 401.4h.1M533.6 397.1h.1M534.5 402.0h.1M536.3 402.7h.1M542.3 411.4h.1M537.4 411.9h.1M538.5 408.2h.1M538.5 413.4h.1M537.7 412.4h.1M541.5 409.7h.1M536.7 408.9h.1M541.7 411.5h.1M537.8 413.3h.1M538.3 411.9h.1M540.0 411.5h.1M537.8 405.5h.1M538.3 405.0h.1M537.7 413.2h.1M540.5 408.6h.1M535.6 407.7h.1M537.6 409.4h.1M536.4 407.6h.1M537.7 409.2h.1M536.7 407.2h.1M536.4 409.2h.1M538.6 406.6h.1M537.9 411.3h.1M535.0 404.8h.1M540.5 406.4h.1M536.4 404.3h.1M538.4 414.4h.1M537.6 419.4h.1M537.9 415.4h.1M538.0 420.5h.1M538.0 419.7h.1M538.9 423.0h.1M537.9 414.9h.1M538.7 414.1h.1M537.5 420.6h.1M539.6 416.8h.1M540.6 419.2h.1M537.1 422.6h.1M538.2 418.7h.1M540.2 416.0h.1M537.3 418.1h.1M537.0 418.2h.1M538.8 421.1h.1M537.5 420.0h.1M537.3 420.4h.1M538.3 414.7h.1M539.6 415.6h.1M537.4 415.1h.1M541.6 416.4h.1M539.2 420.7h.1M542.5 422.8h.1M538.2 426.4h.1M540.0 421.9h.1M540.1 432.0h.1M538.0 426.6h.1M539.6 428.7h.1M541.5 430.7h.1M540.8 430.7h.1M541.2 422.9h.1M543.4 431.6h.1M539.1 424.9h.1M540.2 427.7h.1M539.4 424.1h.1M537.5 423.9h.1M539.6 431.5h.1M537.8 424.1h.1M540.5 432.8h.1M544.3 424.5h.1M543.5 427.4h.1M541.8 430.1h.1M540.2 433.1h.1M539.8 425.8h.1M541.8 422.1h.1M541.2 427.0h.1M537.8 423.0h.1M540.2 430.1h.1M540.1 433.1h.1M539.0 429.3h.1M541.6 428.0h.1M542.2 441.7h.1M544.4 441.9h.1M544.0 441.1h.1M546.0 436.0h.1M546.1 433.3h.1M542.3 433.4h.1M541.8 434.3h.1M542.7 441.2h.1M542.9 437.6h.1M542.7 437.8h.1M540.7 433.3h.1M541.2 437.4h.1M544.2 441.3h.1M542.9 435.8h.1M543.8 438.3h.1M545.0 440.2h.1M540.8 435.6h.1M544.2 438.9h.1M544.0 441.6h.1M543.7 437.3h.1M541.9 437.3h.1M541.6 436.6h.1M541.9 442.6h.1M542.0 436.8h.1M542.0 445.3h.1M542.7 445.4h.1M544.0 451.6h.1M544.0 449.8h.1M545.0 445.7h.1M543.9 444.3h.1M541.4 447.3h.1M545.2 444.0h.1M545.9 451.7h.1M542.1 448.7h.1M541.1 449.6h.1M541.9 448.5h.1M544.1 445.2h.1M541.5 451.6h.1M543.4 446.9h.1M542.3 443.0h.1M543.7 446.0h.1M543.2 445.7h.1M542.4 444.6h.1M542.0 444.3h.1M542.7 446.0h.1M542.5 447.7h.1M546.1 447.9h.1M543.4 447.9h.1M545.9 444.9h.1M540.9 454.9h.1M542.0 454.4h.1M540.0 456.2h.1M543.3 454.3h.1M540.6 453.6h.1M542.0 457.6h.1M539.3 455.5h.1M541.6 454.1h.1M540.6 454.8h.1M540.3 453.9h.1M539.3 456.7h.1M539.3 457.0h.1M541.3 456.2h.1M539.5 455.4h.1M542.9 453.5h.1M542.8 456.7h.1M543.1 459.0h.1M541.8 457.5h.1M543.5 458.6h.1M538.7 456.6h.1M542.7 459.1h.1M542.4 458.9h.1M540.9 457.8h.1M539.3 456.9h.1M541.3 456.7h.1M542.7 459.3h.1M545.4 455.1h.1M543.2 457.6h.1M547.1 457.5h.1M547.0 462.7h.1M550.9 460.9h.1M549.5 462.1h.1M547.1 458.4h.1M546.2 461.2h.1M549.3 463.8h.1M550.4 462.4h.1M548.4 458.2h.1M544.9 459.7h.1M549.2 463.1h.1M546.9 461.1h.1M544.8 460.2h.1M550.0 462.2h.1M544.5 459.3h.1M548.5 460.6h.1M550.5 462.7h.1M549.9 457.0h.1M547.3 459.8h.1M548.8 458.8h.1M555.2 467.0h.1M552.5 462.1h.1M554.9 470.7h.1M555.6 470.1h.1M549.4 465.3h.1M551.7 466.6h.1M557.7 468.7h.1M552.4 466.2h.1M557.5 469.5h.1M550.4 465.3h.1M558.4 469.1h.1M550.6 466.3h.1M553.3 468.2h.1M553.8 468.7h.1M554.8 468.9h.1M550.4 464.3h.1M558.0 468.2h.1M552.6 468.2h.1M555.6 471.4h.1M552.5 466.4h.1M554.6 464.0h.1M555.0 462.0h.1M550.8 464.8h.1M555.5 471.5h.1M556.9 464.2h.1M562.3 474.8h.1M562.5 469.8h.1M558.8 469.9h.1M562.2 475.0h.1M558.6 470.4h.1M562.0 475.1h.1M557.1 472.3h.1M560.6 471.2h.1M559.6 473.6h.1M561.8 472.7h.1M561.1 471.0h.1M556.7 470.4h.1M562.2 474.3h.1M559.9 472.9h.1M560.4 474.5h.1M563.3 471.3h.1M561.5 472.9h.1M558.9 473.3h.1M557.3 472.2h.1M558.1 471.6h.1M564.6 477.7h.1M566.1 480.8h.1M564.5 476.0h.1M565.3 475.4h.1M564.7 476.0h.1M566.4 478.5h.1M564.3 477.0h.1M567.7 482.9h.1M567.1 479.8h.1M567.6 483.3h.1M568.3 479.2h.1M566.4 483.6h.1M567.4 481.0h.1M562.3 475.7h.1M563.9 475.2h.1M567.1 482.1h.1M566.1 480.2h.1M562.9 475.8h.1M564.4 479.8h.1M566.1 482.1h.1M565.5 479.8h.1M570.5 481.1h.1M563.3 477.0h.1M565.5 480.7h.1M569.2 487.1h.1M573.4 487.6h.1M569.1 483.1h.1M570.5 488.5h.1M573.5 487.0h.1M571.1 488.9h.1M572.6 489.7h.1M574.7 485.5h.1M570.7 488.3h.1M571.7 489.9h.1M572.9 489.5h.1M571.1 488.4h.1M573.3 486.0h.1M571.5 487.6h.1M566.9 483.9h.1M568.7 482.6h.1M569.6 483.6h.1M568.8 484.1h.1M570.3 482.6h.1M567.8 484.2h.1M574.7 491.3h.1M576.9 492.6h.1M574.4 492.7h.1M572.5 491.0h.1M572.6 490.8h.1M573.9 490.9h.1M573.7 491.4h.1M574.3 492.1h.1M577.2 493.7h.1M578.3 495.1h.1M577.8 495.6h.1M573.0 490.6h.1M577.0 492.5h.1M574.4 488.1h.1M573.9 488.6h.1M575.8 489.0h.1M577.6 488.8h.1M576.4 493.8h.1M577.0 494.7h.1M577.3 493.0h.1M577.0 494.3h.1M573.3 491.4h.1M578.7 494.0h.1M576.3 492.6h.1M582.1 495.8h.1M580.2 495.0h.1M584.6 497.1h.1M583.8 496.4h.1M586.4 491.4h.1M582.1 496.4h.1M580.3 494.4h.1M583.8 495.5h.1M583.7 497.2h.1M584.6 496.6h.1M581.5 495.5h.1M581.2 497.0h.1M580.8 495.6h.1M579.1 496.8h.1M580.1 496.2h.1M581.9 494.1h.1M579.7 495.8h.1M591.7 500.0h.1M590.0 498.2h.1M587.3 492.7h.1M586.2 496.0h.1M588.4 494.3h.1M590.8 500.1h.1M591.3 500.7h.1M585.9 497.5h.1M590.4 500.0h.1M591.0 499.2h.1M586.7 498.3h.1M587.4 495.1h.1M586.3 497.1h.1M588.5 494.3h.1M590.6 496.3h.1M586.4 494.5h.1M586.3 497.2h.1M588.2 499.1h.1M588.4 496.0h.1M596.7 505.2h.1M594.9 499.9h.1M598.7 498.2h.1M592.9 500.6h.1M593.3 500.9h.1M595.0 503.4h.1M596.9 504.5h.1M591.7 500.9h.1M597.3 504.3h.1M595.0 502.1h.1M594.6 502.4h.1M592.1 501.1h.1M599.5 499.0h.1M594.4 499.2h.1M597.7 503.9h.1M593.5 500.3h.1M591.9 500.8h.1M595.2 499.3h.1M601.5 507.5h.1M600.6 506.5h.1M597.7 505.2h.1M597.8 505.4h.1M602.7 502.2h.1M601.5 505.0h.1M599.6 507.5h.1M600.0 505.6h.1M599.5 505.4h.1M599.6 507.4h.1M599.4 507.1h.1M598.8 506.6h.1M600.6 508.7h.1" fill="none" stroke="#182818" stroke-opacity="0.7" stroke-width="0.95" stroke-linecap="round"/></g>
<polyline points="395.4,62.5 399.2,70.4 405.6,75.5 413.3,81.9 418.4,85.7 424.8,93.4 431.2,97.2 438.9,102.4 446.6,106.2 454.2,109.3 464.5,111.3 474.7,110.8 483.7,110.0 485.0,105.7 490.1,104.4 496.5,106.2 506.7,108.8 511.8,104.9 517.0,99.8 523.4,96.5 531.0,98.5 538.7,103.6 546.4,110.0 552.4,117.7 560.1,129.2 567.0,143.2 574.1,156.0 579.2,165.0 583.1,173.9 586.4,184.1 587.4,190.5 584.4,198.2 582.3,207.1 580.5,217.4 578.7,227.6 578.0,237.8 577.2,250.0 574.1,263.0 570.0,274.5 564.4,284.7 558.0,292.4 553.1,295.9 548.8,298.0 544.6,298.2 542.8,295.4 540.3,291.1 536.8,287.3 532.6,285.1 528.7,281.7 525.7,279.8 524.0,280.4 521.9,284.3 520.6,288.6 518.4,292.9 513.7,293.7 512.0,297.1 511.1,301.4 510.1,306.6 506.9,308.7 504.3,310.4 506.0,314.3 508.6,317.7 512.9,320.3 515.9,321.6 518.4,320.2 521.4,320.7 524.4,322.6 525.7,326.9 524.9,331.1 526.6,335.0 527.8,339.3 522.3,340.6 515.4,340.6 515.0,342.7 518.4,346.6 521.4,351.3 522.7,354.3 519.7,357.7 521.4,362.0 522.7,367.0 524.7,370.4 527.8,376.6 531.3,385.9 532.3,396.5 534.4,404.4 537.1,413.7 536.5,423.0 539.7,433.6 541.8,442.8 540.3,452.1 538.4,457.4 543.7,460.0 549.0,465.3 555.6,472.0 562.2,475.9 566.2,483.9 571.5,490.5 578.1,496.6 584.7,498.4 591.4,501.1 596.6,505.6 600.5,509.5" fill="none" stroke="#1a1a1a" stroke-width="0.95" stroke-linejoin="round"/>
<g stroke="#969696" stroke-width="1" stroke-dasharray="6.3 5.75" fill="none">
<line x1="63.5" y1="57.4" x2="63.5" y2="515.2" stroke-dashoffset="5.7"/>
<line x1="171.5" y1="57.4" x2="171.5" y2="515.2" stroke-dashoffset="5.7"/>
<line x1="279.5" y1="57.4" x2="279.5" y2="515.2" stroke-dashoffset="5.7"/>
<line x1="388.5" y1="57.4" x2="388.5" y2="515.2" stroke-dashoffset="5.7"/>
<line x1="496.5" y1="57.4" x2="496.5" y2="515.2" stroke-dashoffset="5.7"/>
<line x1="604.5" y1="57.4" x2="604.5" y2="515.2" stroke-dashoffset="5.7"/>
<line x1="63.1" y1="84.5" x2="625.6" y2="84.5"/>
<line x1="63.1" y1="174.5" x2="625.6" y2="174.5"/>
<line x1="63.1" y1="264.5" x2="625.6" y2="264.5"/>
<line x1="63.1" y1="354.5" x2="625.6" y2="354.5"/>
<line x1="63.1" y1="443.5" x2="625.6" y2="443.5"/>
</g>
<g>
<polygon points="145.8,353.0 150.1,350.8 150.4,353.1 155.1,347.3 147.7,347.8 149.4,349.3 145.1,351.5" fill="#0080ff"/>
<polygon points="146.0,367.4 149.5,364.5 150.3,366.6 153.6,360.0 146.5,362.1 148.5,363.2 145.0,366.2" fill="#0080ff"/>
<polygon points="160.6,309.1 163.2,306.8 164.0,308.9 167.1,302.1 160.1,304.5 162.1,305.6 159.5,307.9" fill="#0080ff"/>
<polygon points="160.4,323.8 164.4,322.2 164.4,324.5 169.7,319.3 162.3,319.1 163.8,320.8 159.8,322.4" fill="#0080ff"/>
<polygon points="160.5,338.3 164.0,336.1 164.5,338.3 168.6,332.2 161.2,333.4 163.1,334.7 159.6,337.0" fill="#0080ff"/>
<polygon points="175.2,279.9 176.5,278.5 177.5,280.6 179.9,273.6 173.2,276.6 175.3,277.5 174.0,278.9" fill="#0080ff"/>
<polygon points="175.0,294.7 181.7,291.8 181.8,294.1 186.8,288.7 179.4,288.7 181.0,290.3 174.3,293.2" fill="#0080ff"/>
<polygon points="175.2,309.1 178.6,305.4 179.6,307.5 182.1,300.5 175.3,303.5 177.5,304.3 174.1,308.0" fill="#0080ff"/>
<polygon points="175.3,352.7 178.1,349.0 179.3,350.9 181.0,343.7 174.6,347.4 176.8,348.0 174.0,351.8" fill="#0080ff"/>
<polygon points="175.2,367.4 179.3,363.6 180.2,365.7 183.1,358.9 176.2,361.4 178.2,362.4 174.1,366.2" fill="#0080ff"/>
<polygon points="175.3,381.8 178.0,377.5 179.4,379.3 180.4,372.0 174.4,376.2 176.6,376.7 174.0,381.0" fill="#0080ff"/>
<polygon points="192.2,247.2 190.6,251.6 187.9,248.9" fill="#0000ff"/>
<polygon points="189.7,280.0 192.1,278.0 192.9,280.2 196.2,273.6 189.1,275.7 191.1,276.8 188.7,278.8" fill="#0080ff"/>
<polygon points="189.7,309.1 195.3,304.5 196.1,306.6 199.4,300.0 192.3,302.1 194.3,303.2 188.7,307.9" fill="#0080ff"/>
<polygon points="189.8,323.7 193.5,320.1 194.4,322.2 197.3,315.4 190.4,317.9 192.4,318.9 188.7,322.5" fill="#0080ff"/>
<polygon points="189.7,338.3 194.4,335.2 194.9,337.5 199.0,331.3 191.7,332.5 193.6,333.9 188.8,337.0" fill="#0080ff"/>
<polygon points="189.8,352.7 193.0,348.9 194.2,350.9 196.2,343.7 189.6,347.1 191.8,347.9 188.6,351.7" fill="#0080ff"/>
<polygon points="189.8,367.4 193.1,364.2 194.0,366.3 196.9,359.5 190.0,362.0 192.0,363.0 188.7,366.2" fill="#0080ff"/>
<polygon points="204.3,236.3 205.7,235.1 206.5,237.3 209.8,230.7 202.7,232.8 204.7,233.9 203.3,235.1" fill="#0080ff"/>
<polygon points="204.2,265.5 206.5,264.2 206.9,266.5 211.3,260.5 203.9,261.3 205.7,262.8 203.4,264.1" fill="#0080ff"/>
<polygon points="204.2,280.1 207.5,278.3 207.8,280.6 212.3,274.7 204.9,275.4 206.7,276.9 203.4,278.7" fill="#0080ff"/>
<polygon points="204.3,294.6 207.3,292.1 208.0,294.2 211.3,287.6 204.2,289.7 206.2,290.8 203.3,293.4" fill="#0080ff"/>
<polygon points="204.3,309.2 209.5,305.6 210.1,307.8 214.0,301.5 206.7,302.9 208.6,304.3 203.3,307.9" fill="#0080ff"/>
<polygon points="204.3,323.7 208.6,320.4 209.2,322.6 212.8,316.1 205.6,317.9 207.6,319.1 203.3,322.5" fill="#0080ff"/>
<polygon points="204.3,382.0 208.5,378.1 209.3,380.3 212.3,373.5 205.3,375.9 207.4,377.0 203.3,380.8" fill="#0080ff"/>
<polygon points="218.9,207.1 223.0,203.3 223.9,205.4 226.9,198.6 219.9,201.1 222.0,202.1 217.8,206.0" fill="#0080ff"/>
<polygon points="218.9,221.7 221.4,219.4 222.3,221.5 225.2,214.7 218.2,217.2 220.3,218.2 217.8,220.5" fill="#0080ff"/>
<polygon points="218.9,250.9 220.8,249.3 221.5,251.4 224.8,244.8 217.7,246.9 219.7,248.0 217.9,249.6" fill="#0080ff"/>
<polygon points="221.9,260.3 220.4,266.4 216.3,263.2" fill="#0000ff"/>
<polygon points="218.6,280.2 224.4,278.3 224.3,280.6 229.9,275.8 222.5,275.0 223.9,276.8 218.1,278.6" fill="#0080ff"/>
<polygon points="218.9,294.6 221.0,293.0 221.6,295.2 225.2,288.7 218.0,290.5 220.0,291.7 217.9,293.3" fill="#0080ff"/>
<polygon points="218.9,323.7 223.8,319.5 224.6,321.7 227.8,315.0 220.7,317.2 222.7,318.3 217.9,322.5" fill="#0080ff"/>
<polygon points="218.9,338.3 223.6,334.8 224.2,337.1 228.0,330.7 220.7,332.3 222.7,333.5 217.9,337.0" fill="#0080ff"/>
<polygon points="218.9,352.8 223.0,349.0 223.9,351.1 226.9,344.3 219.9,346.8 222.0,347.8 217.8,351.7" fill="#0080ff"/>
<polygon points="218.8,367.5 223.9,364.0 224.4,366.3 228.4,360.0 221.1,361.4 223.0,362.7 217.9,366.1" fill="#0080ff"/>
<polygon points="218.9,381.9 223.2,377.7 224.2,379.8 226.9,372.9 220.0,375.6 222.1,376.5 217.8,380.8" fill="#0080ff"/>
<polygon points="233.7,192.3 235.6,188.3 237.2,190.0 237.5,182.6 231.9,187.4 234.2,187.6 232.2,191.6" fill="#0080ff"/>
<polygon points="233.6,221.6 234.9,219.9 236.1,221.9 238.0,214.7 231.4,218.3 233.6,218.9 232.3,220.6" fill="#0080ff"/>
<polygon points="233.7,236.1 234.8,233.8 236.4,235.6 237.0,228.2 231.2,232.8 233.4,233.1 232.3,235.3" fill="#0080ff"/>
<polygon points="233.3,251.0 237.6,248.7 237.9,251.0 242.6,245.2 235.2,245.8 236.9,247.3 232.6,249.5" fill="#0080ff"/>
<polygon points="233.5,265.4 235.8,263.2 236.7,265.3 239.6,258.4 232.6,261.0 234.7,262.0 232.4,264.2" fill="#0080ff"/>
<polygon points="233.3,280.1 239.8,276.6 240.1,278.8 244.7,273.0 237.3,273.7 239.0,275.2 232.6,278.7" fill="#00ffff"/>
<polygon points="233.4,294.6 238.1,291.3 238.7,293.5 242.6,287.2 235.3,288.7 237.2,290.0 232.5,293.3" fill="#0080ff"/>
<polygon points="233.5,309.2 238.9,304.9 239.6,307.0 243.2,300.5 236.0,302.4 238.0,303.6 232.5,307.9" fill="#0080ff"/>
<polygon points="233.4,323.8 239.1,320.0 239.6,322.3 243.7,316.1 236.4,317.4 238.2,318.7 232.5,322.4" fill="#0080ff"/>
<polygon points="233.4,338.3 238.2,334.8 238.8,337.1 242.6,330.7 235.3,332.3 237.3,333.5 232.5,337.0" fill="#0080ff"/>
<polygon points="233.4,352.9 239.4,349.5 239.8,351.8 244.3,345.8 236.9,346.6 238.7,348.1 232.6,351.5" fill="#0080ff"/>
<polygon points="233.3,367.5 238.8,364.6 239.1,366.8 243.7,361.0 236.3,361.7 238.0,363.2 232.6,366.1" fill="#0080ff"/>
<polygon points="248.3,192.3 250.0,188.7 251.6,190.4 251.8,183.0 246.2,187.8 248.5,188.0 246.8,191.6" fill="#0080ff"/>
<polygon points="248.2,206.9 249.7,204.2 251.2,205.9 251.8,198.5 246.0,203.1 248.3,203.4 246.8,206.2" fill="#0080ff"/>
<polygon points="248.1,236.3 250.3,234.3 251.1,236.4 254.1,229.7 247.1,232.1 249.2,233.1 247.0,235.1" fill="#0080ff"/>
<polygon points="248.0,250.9 250.9,248.6 251.6,250.8 255.0,244.2 247.9,246.2 249.9,247.4 247.0,249.6" fill="#0080ff"/>
<polygon points="247.9,265.5 252.3,263.1 252.6,265.4 257.1,259.5 249.8,260.2 251.5,261.7 247.2,264.1" fill="#0080ff"/>
<polygon points="247.9,280.1 252.9,277.2 253.3,279.5 257.7,273.6 250.4,274.4 252.1,275.9 247.1,278.7" fill="#0080ff"/>
<polygon points="247.9,294.7 253.4,292.0 253.6,294.3 258.4,288.7 251.0,289.0 252.7,290.6 247.2,293.2" fill="#0080ff"/>
<polygon points="248.1,309.1 253.1,305.0 253.8,307.1 257.1,300.5 250.0,302.6 252.0,303.7 247.0,307.9" fill="#0080ff"/>
<polygon points="248.1,338.3 254.2,333.0 255.0,335.1 258.2,328.5 251.2,330.7 253.2,331.8 247.0,337.1" fill="#00ffff"/>
<polygon points="248.0,352.9 253.9,348.5 254.5,350.8 258.2,344.3 251.0,346.0 253.0,347.3 247.1,351.6" fill="#00ffff"/>
<polygon points="248.0,367.5 252.6,364.4 253.1,366.6 257.1,360.4 249.8,361.7 251.7,363.1 247.1,366.1" fill="#0080ff"/>
<polygon points="248.0,382.0 253.0,377.9 253.8,380.1 257.1,373.5 250.0,375.5 252.0,376.7 247.0,380.8" fill="#0080ff"/>
<polygon points="248.1,396.5 253.3,391.6 254.2,393.8 257.1,387.0 250.2,389.4 252.2,390.5 247.0,395.4" fill="#0080ff"/>
<polygon points="262.9,162.9 263.2,160.4 265.3,161.4 263.1,154.3 259.4,160.7 261.6,160.2 261.3,162.7" fill="#0080ff"/>
<polygon points="262.9,177.5 263.3,174.4 265.3,175.5 263.1,168.4 259.4,174.8 261.7,174.3 261.3,177.3" fill="#0080ff"/>
<polygon points="262.8,192.5 266.0,188.2 267.2,190.2 268.9,183.0 262.5,186.6 264.7,187.3 261.5,191.5" fill="#0080ff"/>
<polygon points="262.8,207.0 264.8,204.0 266.1,205.8 267.4,198.5 261.2,202.6 263.4,203.1 261.5,206.1" fill="#0080ff"/>
<polygon points="262.9,221.0 262.7,219.4 264.9,220.0 261.1,213.6 259.1,220.7 261.1,219.6 261.3,221.2" fill="#0080ff"/>
<polygon points="262.6,236.3 265.8,233.9 266.4,236.1 270.1,229.7 262.9,231.4 264.9,232.6 261.6,235.0" fill="#0080ff"/>
<polygon points="262.6,250.9 265.8,248.5 266.4,250.7 270.1,244.2 262.9,246.0 264.9,247.2 261.6,249.6" fill="#0080ff"/>
<polygon points="262.5,265.5 266.7,262.9 267.1,265.1 271.3,259.0 264.0,260.2 265.8,261.5 261.7,264.1" fill="#0080ff"/>
<polygon points="262.6,280.1 267.2,277.0 267.7,279.2 271.7,273.0 264.4,274.3 266.3,275.6 261.7,278.7" fill="#0080ff"/>
<polygon points="262.5,294.6 268.2,291.0 268.7,293.3 272.8,287.2 265.5,288.3 267.3,289.7 261.7,293.3" fill="#0080ff"/>
<polygon points="262.6,309.2 269.3,304.8 269.8,307.0 273.8,300.8 266.5,302.1 268.4,303.5 261.7,307.9" fill="#00ffff"/>
<polygon points="262.5,323.8 270.4,319.6 270.7,321.9 275.3,316.1 267.9,316.7 269.7,318.2 261.7,322.4" fill="#00ffff"/>
<polygon points="262.6,338.3 269.4,333.6 269.9,335.9 273.8,329.6 266.5,331.0 268.4,332.3 261.7,337.0" fill="#00ffff"/>
<polygon points="262.6,352.9 269.9,347.8 270.4,350.0 274.3,343.7 267.1,345.2 269.0,346.5 261.7,351.6" fill="#00ffff"/>
<polygon points="262.6,367.4 267.2,363.5 268.0,365.6 271.1,358.9 264.1,361.2 266.1,362.3 261.6,366.2" fill="#0080ff"/>
<polygon points="262.6,382.0 267.2,378.0 268.0,380.2 271.1,373.5 264.1,375.7 266.1,376.8 261.6,380.8" fill="#0080ff"/>
<polygon points="262.7,396.5 267.9,391.2 268.9,393.3 271.5,386.4 264.7,389.1 266.8,390.1 261.5,395.4" fill="#0080ff"/>
<polygon points="277.5,162.8 277.4,160.8 279.6,161.4 276.2,154.8 273.7,161.8 275.8,160.9 275.9,162.9" fill="#0080ff"/>
<polygon points="277.5,177.4 277.5,174.4 279.6,175.2 276.7,168.4 273.8,175.2 275.9,174.4 275.9,177.4" fill="#0080ff"/>
<polygon points="277.5,192.1 277.8,190.0 279.8,191.1 277.7,184.0 273.9,190.4 276.2,189.8 275.9,191.9" fill="#0080ff"/>
<polygon points="277.4,206.8 278.3,204.4 280.1,205.9 279.7,198.5 274.6,203.9 276.8,203.9 276.0,206.3" fill="#0080ff"/>
<polygon points="277.4,221.5 278.2,219.8 279.8,221.5 280.2,214.1 274.5,218.9 276.8,219.1 276.0,220.8" fill="#0080ff"/>
<polygon points="277.3,236.2 279.0,233.9 280.2,235.9 282.0,228.7 275.5,232.3 277.8,233.0 276.1,235.2" fill="#0080ff"/>
<polygon points="277.1,250.9 280.6,248.7 281.1,250.9 285.2,244.8 277.9,246.0 279.7,247.3 276.3,249.6" fill="#0080ff"/>
<polygon points="277.1,265.5 280.4,263.5 280.8,265.8 285.2,259.8 277.8,260.7 279.6,262.2 276.3,264.1" fill="#0080ff"/>
<polygon points="277.1,280.1 281.1,277.8 281.5,280.0 285.9,274.1 278.5,274.9 280.3,276.4 276.3,278.7" fill="#0080ff"/>
<polygon points="277.1,294.7 284.8,290.6 285.0,292.9 289.7,287.2 282.3,287.7 284.0,289.2 276.3,293.3" fill="#00ffff"/>
<polygon points="277.0,309.3 284.6,305.9 284.7,308.2 289.7,302.7 282.3,302.8 283.9,304.4 276.4,307.8" fill="#00ffff"/>
<polygon points="287.6,128.7 293.6,132.0 289.0,135.4" fill="#0000ff"/>
<polygon points="287.8,143.5 293.5,146.7 289.1,149.9" fill="#0000ff"/>
<polygon points="290.7,157.4 293.7,162.6 288.8,163.1" fill="#0000ff"/>
<polygon points="290.5,171.2 294.1,177.0 288.5,177.8" fill="#0000ff"/>
<polygon points="292.1,192.0 292.2,190.5 294.3,191.5 291.9,184.5 288.4,191.0 290.6,190.4 290.5,191.9" fill="#0080ff"/>
<polygon points="292.1,206.7 292.6,204.5 294.5,205.9 293.3,198.5 288.8,204.4 291.1,204.2 290.5,206.3" fill="#0080ff"/>
<polygon points="291.8,221.7 294.3,219.5 295.1,221.6 298.3,214.9 291.2,217.2 293.3,218.3 290.7,220.5" fill="#0080ff"/>
<polygon points="291.8,236.3 293.4,235.1 294.1,237.3 297.7,230.8 290.5,232.6 292.4,233.8 290.8,235.0" fill="#0080ff"/>
<polygon points="291.8,250.9 293.5,249.5 294.2,251.7 297.7,245.2 290.5,247.1 292.5,248.3 290.8,249.6" fill="#0080ff"/>
<polygon points="291.7,265.5 294.5,263.6 295.1,265.8 299.0,259.5 291.7,260.9 293.6,262.3 290.8,264.2" fill="#0080ff"/>
<polygon points="291.6,280.1 297.5,277.4 297.7,279.6 302.6,274.1 295.2,274.3 296.8,275.9 290.9,278.7" fill="#0080ff"/>
<polygon points="291.7,294.6 300.0,289.5 300.5,291.7 304.7,285.7 297.3,286.7 299.2,288.1 290.9,293.3" fill="#00ffff"/>
<polygon points="291.7,309.2 299.8,304.7 300.2,306.9 304.7,301.0 297.3,301.8 299.1,303.3 290.9,307.8" fill="#00ffff"/>
<polygon points="291.7,323.8 299.4,319.2 299.8,321.4 304.1,315.4 296.7,316.4 298.5,317.8 290.9,322.4" fill="#00ffff"/>
<polygon points="291.7,338.3 298.7,333.9 299.2,336.1 303.3,330.0 296.0,331.2 297.8,332.5 290.8,337.0" fill="#00ffff"/>
<polygon points="291.8,352.9 297.3,348.5 298.0,350.7 301.5,344.1 294.3,346.1 296.3,347.2 290.8,351.6" fill="#0080ff"/>
<polygon points="291.8,367.4 299.7,360.6 300.5,362.8 303.7,356.1 296.6,358.3 298.6,359.4 290.8,366.2" fill="#00ffff"/>
<polygon points="291.9,381.9 299.0,374.5 300.0,376.6 302.6,369.7 295.7,372.5 297.8,373.4 290.7,380.8" fill="#00ffff"/>
<polygon points="305.5,158.3 307.9,162.6 303.8,163.0" fill="#0000ff"/>
<polygon points="305.5,171.9 308.4,177.2 303.4,177.6" fill="#0000ff"/>
<polygon points="307.6,186.0 308.6,192.7 303.1,191.2" fill="#0000ff"/>
<polygon points="306.6,206.8 307.0,205.5 308.8,206.9 307.9,199.5 303.2,205.3 305.4,205.1 305.1,206.3" fill="#0080ff"/>
<polygon points="308.4,215.6 308.4,222.2 303.4,220.0" fill="#0080ff"/>
<polygon points="306.3,236.3 307.7,235.4 308.3,237.6 312.3,231.4 305.0,232.7 306.8,234.1 305.4,235.0" fill="#0080ff"/>
<polygon points="306.4,250.8 308.0,249.4 308.8,251.5 311.9,244.8 304.9,247.2 306.9,248.2 305.3,249.7" fill="#0080ff"/>
<polygon points="306.4,265.4 308.2,264.0 308.9,266.1 312.3,259.5 305.1,261.6 307.1,262.7 305.3,264.2" fill="#0080ff"/>
<polygon points="306.2,280.1 312.1,277.4 312.3,279.6 317.2,274.1 309.8,274.3 311.4,275.9 305.5,278.7" fill="#0080ff"/>
<polygon points="306.4,294.6 311.4,290.6 312.1,292.8 315.7,286.3 308.5,288.1 310.5,289.3 305.4,293.3" fill="#0080ff"/>
<polygon points="306.2,309.2 313.4,305.3 313.7,307.6 318.3,301.7 310.9,302.4 312.6,303.9 305.5,307.8" fill="#00ffff"/>
<polygon points="306.3,323.8 311.6,320.1 312.1,322.4 316.1,316.1 308.8,317.5 310.7,318.8 305.4,322.4" fill="#0080ff"/>
<polygon points="306.3,338.3 311.3,334.8 311.8,337.0 315.7,330.7 308.4,332.2 310.3,333.5 305.4,337.0" fill="#0080ff"/>
<polygon points="306.3,352.9 311.3,349.2 312.0,351.4 315.7,344.9 308.4,346.6 310.4,347.9 305.4,351.6" fill="#0080ff"/>
<polygon points="306.4,367.4 314.4,361.1 315.1,363.3 318.7,356.8 311.5,358.7 313.5,359.9 305.4,366.2" fill="#00ffff"/>
<polygon points="306.4,382.0 313.8,375.7 314.6,377.8 317.9,371.2 310.8,373.3 312.8,374.4 305.3,380.8" fill="#00ffff"/>
<polygon points="321.2,235.9 323.0,230.9 324.7,232.4 324.2,225.0 319.2,230.4 321.5,230.4 319.7,235.4" fill="#0080ff"/>
<polygon points="321.1,250.7 322.4,248.9 323.7,250.9 325.3,243.7 318.9,247.4 321.1,248.0 319.8,249.8" fill="#0080ff"/>
<polygon points="320.9,265.5 322.9,264.1 323.4,266.3 327.2,259.9 320.0,261.5 321.9,262.8 320.0,264.2" fill="#0080ff"/>
<polygon points="320.8,280.1 323.5,278.6 323.8,280.9 328.4,275.1 321.1,275.7 322.8,277.2 320.1,278.7" fill="#0080ff"/>
<polygon points="320.8,294.7 323.4,293.4 323.7,295.6 328.4,290.0 321.0,290.4 322.7,291.9 320.1,293.2" fill="#0080ff"/>
<polygon points="320.8,309.2 323.4,307.9 323.7,310.2 328.4,304.5 321.0,304.9 322.7,306.5 320.1,307.8" fill="#0080ff"/>
<polygon points="320.8,323.8 323.8,322.5 323.9,324.8 328.9,319.3 321.5,319.4 323.2,321.0 320.1,322.4" fill="#0080ff"/>
<polygon points="332.2,142.9 337.5,147.0 332.6,149.5" fill="#0000ff"/>
<polygon points="332.6,157.2 337.6,161.7 332.5,163.9" fill="#0000ff"/>
<polygon points="335.0,185.6 337.9,192.0 332.1,192.0" fill="#0000ff"/>
<polygon points="335.8,206.6 335.9,204.6 338.0,205.5 335.4,198.5 332.1,205.2 334.3,204.5 334.2,206.5" fill="#0080ff"/>
<polygon points="335.8,221.2 336.1,219.2 338.1,220.3 336.0,213.2 332.2,219.6 334.5,219.0 334.2,221.0" fill="#0080ff"/>
<polygon points="335.8,235.9 336.5,233.5 338.3,234.9 337.5,227.6 332.7,233.2 335.0,233.1 334.3,235.4" fill="#0080ff"/>
<polygon points="335.8,250.5 336.6,248.4 338.3,250.0 338.0,242.6 332.8,247.8 335.1,247.8 334.3,250.0" fill="#0080ff"/>
<polygon points="335.6,265.4 336.7,264.3 337.6,266.4 340.3,259.5 333.4,262.2 335.5,263.2 334.5,264.3" fill="#0080ff"/>
<polygon points="340.5,276.1 336.5,281.9 333.5,276.9" fill="#0080ff"/>
<polygon points="340.5,291.9 336.0,296.5 334.1,291.5" fill="#0000ff"/>
<polygon points="340.4,305.1 336.6,311.0 333.5,306.1" fill="#0080ff"/>
<polygon points="335.4,323.8 338.0,322.4 338.4,324.6 342.9,318.8 335.5,319.5 337.3,321.0 334.6,322.4" fill="#0080ff"/>
<polygon points="335.5,338.3 337.9,336.7 338.4,339.0 342.5,332.8 335.2,334.0 337.1,335.4 334.6,337.0" fill="#0080ff"/>
<polygon points="350.1,118.5 348.2,116.7 350.2,115.7 343.2,113.3 346.3,120.1 347.1,117.9 349.1,119.7" fill="#0080ff"/>
<polygon points="350.2,147.8 349.5,146.8 351.7,146.2 345.3,142.5 347.0,149.7 348.2,147.7 349.0,148.7" fill="#0080ff"/>
<polygon points="350.3,162.4 349.1,160.5 351.4,160.1 345.3,155.8 346.3,163.2 347.8,161.3 348.9,163.2" fill="#0080ff"/>
<polygon points="350.3,177.0 349.3,175.2 351.5,174.8 345.6,170.4 346.4,177.8 347.9,176.0 348.9,177.8" fill="#0080ff"/>
<polygon points="350.3,191.5 349.7,190.6 351.9,190.1 345.8,186.0 346.9,193.3 348.3,191.5 348.9,192.4" fill="#0080ff"/>
<polygon points="349.6,200.1 352.5,206.5 346.7,206.5" fill="#0000ff"/>
<polygon points="350.4,221.1 350.4,218.8 352.5,219.6 349.6,212.8 346.6,219.6 348.8,218.8 348.8,221.1" fill="#0080ff"/>
<polygon points="350.4,235.7 350.5,233.2 352.6,234.1 350.0,227.2 346.7,233.8 348.9,233.1 348.8,235.6" fill="#0080ff"/>
<polygon points="350.4,250.4 350.8,248.2 352.8,249.4 351.1,242.2 347.0,248.3 349.2,247.9 348.8,250.1" fill="#0080ff"/>
<polygon points="350.4,265.0 350.8,262.9 352.7,264.2 351.1,256.9 346.9,263.1 349.2,262.6 348.8,264.7" fill="#0080ff"/>
<polygon points="353.0,274.6 351.8,280.9 347.4,277.8" fill="#0000ff"/>
<polygon points="353.4,289.4 351.7,295.7 347.5,292.2" fill="#0000ff"/>
<polygon points="354.0,304.0 351.6,310.5 347.6,306.5" fill="#0000ff"/>
<polygon points="353.9,318.8 351.6,325.1 347.6,321.1" fill="#0000ff"/>
<polygon points="353.9,333.4 351.6,339.6 347.6,335.7" fill="#0000ff"/>
<polygon points="364.7,118.5 363.0,117.1 364.9,116.0 357.8,114.0 361.3,120.6 362.0,118.4 363.7,119.7" fill="#0080ff"/>
<polygon points="364.8,133.1 362.5,130.8 364.6,129.9 357.8,127.1 360.4,134.0 361.4,131.9 363.6,134.2" fill="#0080ff"/>
<polygon points="358.9,144.5 365.9,145.8 362.4,150.7" fill="#0080ff"/>
<polygon points="361.2,161.3 364.9,161.5 363.5,164.2" fill="#0000ff"/>
<polygon points="364.8,176.9 364.1,176.0 366.3,175.3 359.7,171.9 361.7,179.0 362.9,177.0 363.6,177.9" fill="#0080ff"/>
<polygon points="364.9,191.6 363.9,189.8 366.2,189.5 360.4,185.0 361.0,192.4 362.5,190.6 363.5,192.4" fill="#0080ff"/>
<polygon points="364.9,206.2 364.0,204.1 366.3,204.0 361.0,198.8 360.9,206.3 362.5,204.7 363.4,206.8" fill="#0080ff"/>
<polygon points="365.0,221.1 365.0,218.4 367.1,219.2 364.2,212.4 361.2,219.2 363.4,218.4 363.4,221.1" fill="#0080ff"/>
<polygon points="365.0,235.7 365.0,232.5 367.1,233.3 364.2,226.5 361.2,233.3 363.4,232.5 363.4,235.7" fill="#0080ff"/>
<polygon points="365.0,250.2 365.0,247.5 367.1,248.3 364.2,241.6 361.2,248.3 363.4,247.5 363.4,250.2" fill="#0080ff"/>
<polygon points="365.0,264.9 365.2,263.0 367.2,264.0 365.1,256.9 361.4,263.3 363.6,262.8 363.4,264.7" fill="#0080ff"/>
<polygon points="364.2,273.0 367.1,279.4 361.3,279.4" fill="#0080ff"/>
<polygon points="366.8,288.4 366.7,295.1 361.6,292.8" fill="#0000ff"/>
<polygon points="364.3,303.0 366.7,308.6 361.7,308.5" fill="#0000ff"/>
<polygon points="365.0,323.1 365.0,321.5 367.1,322.3 364.2,315.5 361.2,322.3 363.4,321.5 363.4,323.1" fill="#0080ff"/>
<polygon points="365.0,337.7 365.0,335.6 367.1,336.4 364.2,329.6 361.2,336.4 363.4,335.6 363.4,337.7" fill="#0080ff"/>
<polygon points="364.9,352.5 366.1,349.4 367.8,350.9 367.4,343.5 362.3,348.9 364.6,348.9 363.4,352.0" fill="#0080ff"/>
<polygon points="379.3,133.1 376.8,130.5 379.0,129.6 372.2,126.7 374.7,133.7 375.7,131.6 378.2,134.2" fill="#0080ff"/>
<polygon points="379.3,147.7 377.2,145.8 379.2,144.7 372.2,142.5 375.3,149.2 376.1,147.0 378.2,148.9" fill="#0080ff"/>
<polygon points="379.3,162.2 377.9,161.1 379.9,159.9 372.8,157.9 376.2,164.5 376.9,162.3 378.3,163.4" fill="#0080ff"/>
<polygon points="379.4,176.9 378.4,175.8 380.5,174.9 373.8,171.9 376.2,178.9 377.2,176.9 378.2,177.9" fill="#0080ff"/>
<polygon points="379.5,191.6 378.5,189.8 380.8,189.5 375.0,185.0 375.6,192.4 377.1,190.6 378.1,192.4" fill="#0080ff"/>
<polygon points="379.5,206.2 378.6,204.2 380.9,204.0 375.4,199.0 375.5,206.5 377.1,204.8 378.0,206.9" fill="#0080ff"/>
<polygon points="379.5,220.9 378.6,218.2 380.9,218.3 376.0,212.8 375.3,220.2 377.1,218.7 378.0,221.4" fill="#0080ff"/>
<polygon points="379.5,235.4 378.4,231.9 380.7,232.0 375.8,226.5 375.1,233.9 376.9,232.4 378.0,235.9" fill="#0080ff"/>
<polygon points="379.5,250.1 378.9,246.2 381.1,246.6 377.1,240.4 375.3,247.7 377.3,246.5 378.0,250.4" fill="#0080ff"/>
<polygon points="379.5,264.7 378.5,259.8 380.8,260.1 376.5,254.1 375.0,261.4 376.9,260.1 378.0,265.0" fill="#0080ff"/>
<polygon points="379.5,279.2 379.0,276.1 381.2,276.5 377.1,270.4 375.4,277.6 377.4,276.4 378.0,279.5" fill="#0080ff"/>
<polygon points="379.5,293.7 378.4,290.2 380.7,290.4 375.9,284.8 375.1,292.1 376.9,290.7 378.0,294.2" fill="#0080ff"/>
<polygon points="375.9,302.5 381.5,307.2 376.0,309.9" fill="#0080ff"/>
<polygon points="379.6,323.0 379.2,319.9 381.4,320.5 377.7,314.1 375.6,321.2 377.6,320.1 378.0,323.2" fill="#0080ff"/>
<polygon points="379.6,337.6 379.2,334.3 381.5,335.0 377.9,328.5 375.6,335.5 377.6,334.5 378.0,337.7" fill="#0080ff"/>
<polygon points="379.5,352.4 380.8,347.3 382.7,348.7 381.6,341.3 377.0,347.2 379.3,346.9 378.0,352.0" fill="#0080ff"/>
<polygon points="394.1,104.2 392.9,101.5 395.2,101.4 389.9,96.3 389.8,103.7 391.5,102.1 392.6,104.9" fill="#0080ff"/>
<polygon points="394.0,118.7 392.4,116.0 394.7,115.6 388.6,111.2 389.6,118.6 391.0,116.8 392.7,119.5" fill="#0080ff"/>
<polygon points="394.0,133.2 391.8,129.9 394.1,129.4 387.8,125.4 389.1,132.7 390.5,130.8 392.7,134.1" fill="#0080ff"/>
<polygon points="394.0,147.8 392.6,146.0 394.8,145.4 388.3,141.8 390.1,148.9 391.4,147.0 392.7,148.7" fill="#0080ff"/>
<polygon points="393.9,162.3 392.7,160.9 394.9,160.1 388.2,156.8 390.4,163.9 391.5,161.9 392.7,163.3" fill="#0080ff"/>
<polygon points="394.0,176.9 392.7,175.2 394.9,174.5 388.3,171.0 390.2,178.2 391.4,176.2 392.7,177.9" fill="#0080ff"/>
<polygon points="394.0,191.5 392.5,189.1 394.8,188.7 388.6,184.5 389.8,191.8 391.1,190.0 392.7,192.4" fill="#0080ff"/>
<polygon points="394.1,206.2 393.0,203.7 395.3,203.6 389.9,198.5 389.9,206.0 391.5,204.4 392.6,206.9" fill="#0080ff"/>
<polygon points="394.1,220.8 392.4,216.9 394.7,216.8 389.3,211.7 389.3,219.1 390.9,217.5 392.6,221.4" fill="#0080ff"/>
<polygon points="394.1,235.3 391.9,230.9 394.2,230.7 388.6,225.9 388.9,233.3 390.5,231.6 392.6,236.0" fill="#0080ff"/>
<polygon points="394.1,250.0 392.2,244.7 394.5,244.7 389.3,239.3 388.9,246.8 390.7,245.2 392.6,250.5" fill="#0080ff"/>
<polygon points="394.1,264.6 392.0,258.5 394.3,258.6 389.3,253.1 388.7,260.5 390.5,259.0 392.6,265.1" fill="#0080ff"/>
<polygon points="394.1,279.1 391.0,271.6 393.3,271.6 388.0,266.4 387.9,273.8 389.6,272.2 392.6,279.7" fill="#00ffff"/>
<polygon points="394.1,293.6 391.4,288.1 393.7,287.9 388.0,283.1 388.4,290.5 389.9,288.8 392.6,294.3" fill="#0080ff"/>
<polygon points="394.1,308.2 391.4,302.9 393.7,302.7 388.0,297.9 388.4,305.3 390.0,303.6 392.6,308.9" fill="#0080ff"/>
<polygon points="394.1,322.8 391.9,318.0 394.2,317.8 388.6,312.9 388.8,320.3 390.4,318.7 392.6,323.4" fill="#0080ff"/>
<polygon points="394.1,337.6 394.0,332.9 396.1,333.7 392.9,327.0 390.2,333.9 392.4,333.0 392.5,337.7" fill="#0080ff"/>
<polygon points="394.1,352.2 393.9,345.2 396.1,345.9 392.9,339.2 390.2,346.1 392.3,345.2 392.5,352.3" fill="#0080ff"/>
<polygon points="394.1,367.0 396.6,355.8 398.5,357.1 397.1,349.8 392.8,355.8 395.1,355.5 392.6,366.6" fill="#00ffff"/>
<polygon points="394.1,381.6 397.6,368.4 399.5,369.7 398.3,362.4 393.8,368.2 396.0,368.0 392.6,381.2" fill="#00ffff"/>
<polygon points="408.7,118.8 407.1,115.3 409.4,115.1 403.9,110.1 404.0,117.5 405.6,115.9 407.2,119.4" fill="#0080ff"/>
<polygon points="408.6,133.3 407.2,130.4 409.5,130.2 403.9,125.4 404.2,132.8 405.8,131.1 407.2,134.0" fill="#0080ff"/>
<polygon points="408.6,147.9 407.5,145.8 409.8,145.5 403.9,141.0 404.6,148.3 406.1,146.6 407.2,148.6" fill="#0080ff"/>
<polygon points="408.6,162.4 407.2,160.4 409.5,159.8 403.2,155.8 404.6,163.1 405.9,161.2 407.3,163.3" fill="#0080ff"/>
<polygon points="408.6,177.0 407.7,175.1 410.0,174.9 404.3,170.1 404.7,177.5 406.2,175.8 407.2,177.8" fill="#0080ff"/>
<polygon points="408.7,191.7 407.4,188.7 409.7,188.6 404.3,183.5 404.3,190.9 405.9,189.3 407.2,192.3" fill="#0080ff"/>
<polygon points="408.7,206.3 407.5,202.8 409.8,202.9 404.9,197.3 404.2,204.7 406.0,203.3 407.2,206.8" fill="#0080ff"/>
<polygon points="408.7,221.1 408.5,215.6 410.7,216.3 407.5,209.6 404.8,216.5 406.9,215.6 407.1,221.1" fill="#0080ff"/>
<polygon points="408.7,235.5 407.1,229.3 409.4,229.6 404.9,223.7 403.7,231.0 405.6,229.7 407.1,235.9" fill="#0080ff"/>
<polygon points="408.7,249.9 405.9,243.4 408.2,243.4 402.8,238.2 402.8,245.7 404.4,244.1 407.2,250.6" fill="#0080ff"/>
<polygon points="408.6,264.5 404.4,255.6 406.7,255.4 401.1,250.5 401.4,257.9 403.0,256.3 407.2,265.2" fill="#00ffff"/>
<polygon points="408.7,279.1 404.5,268.6 406.8,268.6 401.5,263.4 401.3,270.8 403.0,269.2 407.2,279.7" fill="#00ffff"/>
<polygon points="408.6,293.6 403.8,282.9 406.1,282.7 400.6,277.8 400.7,285.2 402.3,283.5 407.2,294.3" fill="#00ffff"/>
<polygon points="408.6,308.2 404.3,298.6 406.6,298.5 401.1,293.5 401.2,300.9 402.9,299.3 407.2,308.9" fill="#00ffff"/>
<polygon points="408.7,322.8 405.5,313.1 407.8,313.2 402.8,307.7 402.2,315.1 403.9,313.6 407.2,323.4" fill="#00ffff"/>
<polygon points="408.7,337.5 407.1,327.8 409.3,328.3 405.3,322.1 403.5,329.3 405.5,328.1 407.1,337.8" fill="#00ffff"/>
<polygon points="408.7,352.2 408.2,342.4 410.4,343.1 407.0,336.4 404.5,343.4 406.6,342.5 407.1,352.3" fill="#00ffff"/>
<polygon points="408.7,366.9 409.9,354.2 411.9,355.3 409.6,348.2 406.1,354.7 408.3,354.1 407.1,366.7" fill="#00ffff"/>
<polygon points="423.3,104.3 422.9,103.1 425.1,103.2 420.2,97.7 419.6,105.0 421.3,103.6 421.7,104.8" fill="#0080ff"/>
<polygon points="423.3,118.9 422.7,117.0 424.9,117.1 420.0,111.6 419.4,119.0 421.1,117.5 421.7,119.4" fill="#0080ff"/>
<polygon points="423.3,133.4 422.5,131.3 424.8,131.4 419.7,126.0 419.3,133.4 421.0,131.9 421.7,134.0" fill="#0080ff"/>
<polygon points="423.2,147.9 422.8,147.0 425.0,146.7 419.3,142.1 419.8,149.5 421.3,147.7 421.8,148.6" fill="#0080ff"/>
<polygon points="423.2,162.5 422.5,160.9 424.8,160.8 419.3,155.8 419.4,163.2 421.1,161.6 421.8,163.2" fill="#0080ff"/>
<polygon points="423.3,177.4 423.2,174.8 425.4,175.6 422.1,168.9 419.5,175.8 421.6,174.9 421.7,177.4" fill="#0080ff"/>
<polygon points="423.3,192.2 424.3,188.4 426.1,189.7 425.0,182.4 420.4,188.2 422.7,188.0 421.7,191.8" fill="#0080ff"/>
<polygon points="423.2,206.8 425.3,201.5 427.0,203.0 426.8,195.6 421.6,200.9 423.9,200.9 421.8,206.2" fill="#0080ff"/>
<polygon points="423.2,221.4 426.3,213.3 428.0,214.8 427.6,207.4 422.5,212.8 424.8,212.7 421.8,220.8" fill="#00ffff"/>
<polygon points="423.3,235.8 425.2,226.1 427.1,227.3 425.5,220.1 421.3,226.2 423.6,225.8 421.7,235.5" fill="#00ffff"/>
<polygon points="423.3,250.2 423.3,237.9 425.4,238.8 422.5,231.9 419.6,238.8 421.7,237.9 421.7,250.2" fill="#00ffff"/>
<polygon points="423.3,264.7 421.9,253.0 424.1,253.5 420.4,247.1 418.3,254.2 420.3,253.2 421.7,264.9" fill="#00ffff"/>
<polygon points="423.3,279.3 421.3,265.4 423.6,265.9 419.7,259.6 417.7,266.7 419.7,265.6 421.7,279.5" fill="#80ff80"/>
<polygon points="423.3,293.9 421.3,278.3 423.5,278.8 419.7,272.5 417.7,279.6 419.7,278.5 421.7,294.1" fill="#80ff80"/>
<polygon points="423.3,308.4 421.2,292.0 423.5,292.5 419.7,286.1 417.6,293.2 419.6,292.2 421.7,308.6" fill="#80ff80"/>
<polygon points="423.3,323.0 421.8,306.6 424.0,307.2 420.4,300.7 418.1,307.7 420.2,306.7 421.7,323.2" fill="#80ff80"/>
<polygon points="423.3,337.6 422.1,322.7 424.3,323.3 420.8,316.8 418.4,323.8 420.5,322.8 421.7,337.7" fill="#80ff80"/>
<polygon points="423.3,352.2 422.5,337.7 424.7,338.4 421.4,331.7 418.8,338.7 420.9,337.8 421.7,352.3" fill="#80ff80"/>
<polygon points="423.3,366.9 424.5,350.4 426.6,351.4 424.2,344.4 420.7,351.0 422.9,350.3 421.7,366.7" fill="#80ff80"/>
<polygon points="423.3,381.5 426.0,363.4 428.0,364.5 426.1,357.4 422.2,363.7 424.4,363.2 421.7,381.3" fill="#80ff80"/>
<polygon points="423.3,396.1 426.7,377.3 428.7,378.5 427.0,371.3 422.9,377.4 425.1,377.0 421.7,395.8" fill="#80ff80"/>
<polygon points="423.3,410.7 427.3,391.2 429.2,392.5 427.7,385.2 423.4,391.3 425.7,390.9 421.7,410.4" fill="#80ff80"/>
<polygon points="423.3,425.3 427.3,405.8 429.2,407.0 427.7,399.8 423.4,405.9 425.7,405.5 421.7,424.9" fill="#80ff80"/>
<polygon points="423.3,439.8 427.0,420.4 429.0,421.6 427.4,414.4 423.2,420.5 425.5,420.1 421.7,439.5" fill="#80ff80"/>
<polygon points="423.3,454.4 426.7,435.0 428.7,436.1 427.0,428.9 422.9,435.1 425.2,434.7 421.7,454.1" fill="#80ff80"/>
<polygon points="433.3,114.7 439.1,117.4 435.1,120.9" fill="#0000ff"/>
<polygon points="432.6,128.7 439.4,131.6 434.8,135.7" fill="#0080ff"/>
<polygon points="433.9,144.0 439.0,146.8 435.1,149.7" fill="#0000ff"/>
<polygon points="437.9,162.8 437.9,161.1 440.0,161.9 437.1,155.1 434.1,161.9 436.3,161.1 436.3,162.8" fill="#0080ff"/>
<polygon points="437.9,177.6 438.5,175.1 440.4,176.4 439.3,169.1 434.7,174.9 437.0,174.7 436.3,177.2" fill="#0080ff"/>
<polygon points="437.8,192.3 440.4,186.1 442.1,187.7 442.0,180.3 436.6,185.4 438.9,185.5 436.3,191.7" fill="#0080ff"/>
<polygon points="437.8,206.9 442.0,198.8 443.5,200.5 444.1,193.1 438.3,197.8 440.6,198.1 436.4,206.2" fill="#00ffff"/>
<polygon points="437.8,221.4 442.8,210.7 444.4,212.3 444.6,204.9 439.0,209.8 441.3,210.0 436.4,220.8" fill="#00ffff"/>
<polygon points="437.8,236.0 443.8,222.0 445.4,223.6 445.4,216.2 440.0,221.3 442.3,221.4 436.3,235.4" fill="#80ff80"/>
<polygon points="437.8,250.5 442.9,233.6 444.7,235.0 443.9,227.7 439.1,233.3 441.4,233.1 436.3,250.0" fill="#80ff80"/>
<polygon points="437.9,264.9 439.2,246.3 441.3,247.3 438.9,240.3 435.4,246.9 437.6,246.2 436.3,264.8" fill="#80ff80"/>
<polygon points="437.9,279.4 437.7,260.5 439.8,261.3 436.8,254.5 433.9,261.3 436.1,260.5 436.3,279.4" fill="#80ff80"/>
<polygon points="437.9,293.9 437.1,275.6 439.3,276.3 436.1,269.7 433.4,276.6 435.5,275.7 436.3,294.0" fill="#80ff80"/>
<polygon points="437.9,308.5 436.9,289.0 439.1,289.7 435.8,283.0 433.2,290.0 435.3,289.0 436.3,308.6" fill="#80ff80"/>
<polygon points="437.9,323.1 437.1,303.5 439.3,304.3 436.1,297.6 433.4,304.5 435.5,303.6 436.3,323.1" fill="#80ff80"/>
<polygon points="437.9,337.6 437.3,318.1 439.5,318.9 436.4,312.2 433.6,319.0 435.7,318.2 436.3,337.7" fill="#80ff80"/>
<polygon points="437.9,352.2 437.7,334.4 439.8,335.2 436.8,328.4 433.9,335.3 436.1,334.4 436.3,352.3" fill="#80ff80"/>
<polygon points="437.9,366.8 438.7,347.4 440.8,348.3 438.2,341.4 434.9,348.1 437.1,347.4 436.3,366.8" fill="#80ff80"/>
<polygon points="437.9,381.5 440.7,363.3 442.7,364.5 440.9,357.3 436.9,363.5 439.2,363.1 436.3,381.3" fill="#80ff80"/>
<polygon points="437.9,396.1 441.6,377.3 443.6,378.5 442.0,371.3 437.8,377.3 440.0,377.0 436.3,395.8" fill="#80ff80"/>
<polygon points="437.9,410.7 441.6,391.1 443.5,392.3 441.9,385.1 437.7,391.3 440.0,390.9 436.3,410.4" fill="#80ff80"/>
<polygon points="437.9,425.2 441.6,405.7 443.6,406.9 442.0,399.7 437.8,405.8 440.1,405.4 436.3,424.9" fill="#80ff80"/>
<polygon points="437.9,439.8 441.3,420.2 443.3,421.4 441.6,414.2 437.5,420.3 439.8,419.9 436.3,439.5" fill="#80ff80"/>
<polygon points="437.9,454.3 440.5,435.0 442.5,436.1 440.5,428.9 436.7,435.3 438.9,434.8 436.3,454.1" fill="#80ff80"/>
<polygon points="446.7,114.6 453.7,116.8 449.6,121.4" fill="#0080ff"/>
<polygon points="452.3,133.3 451.9,132.6 454.2,132.1 448.1,127.9 449.1,135.2 450.5,133.4 451.0,134.1" fill="#0080ff"/>
<polygon points="451.2,141.6 454.7,148.0 448.6,148.5" fill="#0080ff"/>
<polygon points="452.5,162.9 452.5,161.1 454.7,162.1 452.1,155.1 448.8,161.8 451.0,161.1 450.9,162.8" fill="#0080ff"/>
<polygon points="452.4,177.7 454.2,173.8 455.8,175.4 456.0,168.0 450.4,173.0 452.7,173.1 450.9,177.1" fill="#0080ff"/>
<polygon points="452.3,192.4 456.7,185.3 458.1,187.1 459.2,179.8 453.1,184.0 455.3,184.4 451.0,191.6" fill="#00ffff"/>
<polygon points="452.4,206.9 458.0,196.6 459.5,198.3 460.2,190.9 454.3,195.5 456.6,195.8 451.0,206.2" fill="#00ffff"/>
<polygon points="452.4,221.5 459.2,207.3 460.8,209.0 461.1,201.6 455.4,206.5 457.7,206.7 450.9,220.8" fill="#80ff80"/>
<polygon points="452.4,236.0 459.6,217.7 461.3,219.3 461.1,211.9 455.8,217.1 458.1,217.2 450.9,235.4" fill="#80ff80"/>
<polygon points="452.4,250.5 459.2,230.0 461.0,231.4 460.4,224.1 455.4,229.6 457.7,229.5 450.9,250.0" fill="#ffff00"/>
<polygon points="452.4,265.0 457.1,242.1 459.0,243.4 457.5,236.1 453.2,242.2 455.5,241.8 450.9,264.7" fill="#ffff00"/>
<polygon points="452.5,279.5 455.4,256.4 457.4,257.5 455.4,250.4 451.6,256.8 453.8,256.2 450.9,279.3" fill="#ffff00"/>
<polygon points="452.5,294.0 454.3,270.5 456.4,271.5 454.0,264.5 450.5,271.0 452.7,270.4 450.9,293.9" fill="#ffff00"/>
<polygon points="452.5,308.6 453.2,283.3 455.3,284.2 452.6,277.3 449.4,284.0 451.6,283.3 450.9,308.5" fill="#ffff00"/>
<polygon points="452.5,323.1 452.8,298.9 454.9,299.7 452.1,292.9 449.0,299.7 451.2,298.9 450.9,323.1" fill="#ffff00"/>
<polygon points="452.5,337.6 451.4,316.0 453.6,316.7 450.4,310.1 447.7,317.0 449.8,316.1 450.9,337.7" fill="#ffff00"/>
<polygon points="452.5,352.2 450.7,333.2 452.9,333.8 449.4,327.3 447.0,334.4 449.1,333.4 450.9,352.3" fill="#80ff80"/>
<polygon points="452.5,366.8 452.0,348.5 454.2,349.2 451.1,342.5 448.3,349.4 450.4,348.5 450.9,366.8" fill="#80ff80"/>
<polygon points="452.5,381.5 454.9,363.3 456.9,364.4 454.9,357.3 451.0,363.6 453.3,363.1 450.9,381.3" fill="#80ff80"/>
<polygon points="452.4,396.1 456.1,376.6 458.0,377.8 456.4,370.6 452.2,376.7 454.5,376.3 450.9,395.8" fill="#80ff80"/>
<polygon points="452.4,410.7 456.6,388.8 458.6,390.1 457.0,382.8 452.8,388.9 455.0,388.5 450.9,410.4" fill="#ffff00"/>
<polygon points="452.4,425.2 456.2,401.7 458.2,402.9 456.4,395.7 452.4,401.9 454.6,401.5 450.9,425.0" fill="#ffff00"/>
<polygon points="452.5,439.8 455.6,416.5 457.7,417.6 455.7,410.5 451.8,416.8 454.1,416.3 450.9,439.6" fill="#ffff00"/>
<polygon points="452.5,454.3 454.5,437.5 456.5,438.5 454.4,431.4 450.6,437.8 452.9,437.3 450.9,454.1" fill="#80ff80"/>
<polygon points="463.3,113.1 469.0,117.8 463.5,120.4" fill="#0080ff"/>
<polygon points="463.7,127.5 469.1,132.6 463.4,134.8" fill="#0080ff"/>
<polygon points="465.7,142.6 468.8,148.0 463.6,148.5" fill="#0000ff"/>
<polygon points="468.3,158.5 468.2,163.8 464.3,161.9" fill="#0000ff"/>
<polygon points="466.8,177.9 468.8,175.8 469.8,177.8 472.2,170.8 465.5,173.8 467.6,174.7 465.6,176.9" fill="#0080ff"/>
<polygon points="466.8,192.5 472.9,186.2 473.9,188.2 476.4,181.3 469.6,184.2 471.7,185.0 465.7,191.4" fill="#00ffff"/>
<polygon points="466.8,207.1 475.4,197.1 476.5,199.1 478.6,192.0 472.0,195.3 474.1,196.1 465.6,206.0" fill="#00ffff"/>
<polygon points="466.9,221.5 475.7,207.6 477.1,209.4 478.2,202.1 472.1,206.3 474.4,206.7 465.6,220.7" fill="#80ff80"/>
<polygon points="467.0,236.0 475.6,217.6 477.2,219.3 477.4,211.9 471.9,216.8 474.2,217.0 465.5,235.3" fill="#80ff80"/>
<polygon points="467.0,250.5 474.2,229.3 476.0,230.7 475.3,223.3 470.4,228.8 472.7,228.8 465.5,250.0" fill="#ffff00"/>
<polygon points="467.0,265.0 472.7,240.8 474.6,242.1 473.2,234.8 468.8,240.8 471.1,240.5 465.5,264.6" fill="#ffff00"/>
<polygon points="467.0,279.5 471.5,254.4 473.5,255.6 471.7,248.4 467.6,254.6 469.9,254.1 465.5,279.3" fill="#ffff00"/>
<polygon points="467.0,294.1 471.5,268.6 473.5,269.8 471.7,262.6 467.7,268.7 469.9,268.3 465.5,293.8" fill="#ffff00"/>
<polygon points="467.0,308.6 469.8,282.0 471.9,283.0 469.6,275.9 466.0,282.4 468.2,281.8 465.4,308.4" fill="#ffff00"/>
<polygon points="467.0,323.1 468.3,296.8 470.4,297.7 467.8,290.8 464.6,297.4 466.7,296.7 465.4,323.1" fill="#ffff00"/>
<polygon points="467.0,337.6 465.2,313.2 467.4,313.8 463.9,307.3 461.5,314.3 463.6,313.3 465.4,337.7" fill="#ffff00"/>
<polygon points="467.0,352.2 465.2,328.7 467.4,329.4 463.9,322.8 461.5,329.8 463.6,328.9 465.4,352.3" fill="#ffff00"/>
<polygon points="467.0,366.8 466.6,347.4 468.7,348.1 465.6,341.4 462.9,348.3 465.0,347.4 465.4,366.8" fill="#80ff80"/>
<polygon points="467.0,381.5 468.8,362.0 470.9,363.0 468.5,356.0 465.0,362.5 467.2,361.9 465.4,381.3" fill="#80ff80"/>
<polygon points="467.0,396.1 471.1,374.0 473.0,375.2 471.3,368.0 467.2,374.1 469.5,373.7 465.5,395.8" fill="#ffff00"/>
<polygon points="467.0,410.7 471.6,388.8 473.5,390.1 472.0,382.8 467.8,388.9 470.0,388.5 465.5,410.4" fill="#ffff00"/>
<polygon points="467.0,425.2 471.1,402.1 473.1,403.3 471.3,396.1 467.3,402.3 469.5,401.8 465.5,425.0" fill="#ffff00"/>
<polygon points="467.0,439.8 470.2,416.5 472.2,417.6 470.2,410.5 466.4,416.8 468.6,416.3 465.4,439.6" fill="#ffff00"/>
<polygon points="467.0,454.3 467.6,437.4 469.7,438.3 466.9,431.4 463.8,438.1 466.0,437.4 465.4,454.2" fill="#80ff80"/>
<polygon points="477.8,113.1 483.6,117.8 478.1,120.5" fill="#0080ff"/>
<polygon points="478.1,128.4 483.2,132.5 478.4,134.9" fill="#0000ff"/>
<polygon points="478.9,145.1 482.3,147.4 479.4,149.1" fill="#0000ff"/>
<polygon points="482.0,160.3 482.0,163.4 479.7,162.3" fill="#0000ff"/>
<polygon points="481.3,178.1 484.1,176.2 484.6,178.5 488.7,172.3 481.4,173.5 483.3,174.9 480.4,176.7" fill="#0080ff"/>
<polygon points="481.3,192.6 489.2,186.9 489.8,189.1 493.6,182.8 486.4,184.3 488.3,185.6 480.4,191.3" fill="#00ffff"/>
<polygon points="481.3,207.2 491.5,199.2 492.2,201.4 495.7,194.8 488.5,196.7 490.5,197.9 480.3,205.9" fill="#00ffff"/>
<polygon points="481.4,221.6 492.0,209.2 493.2,211.2 495.3,204.1 488.7,207.4 490.8,208.1 480.2,220.6" fill="#80ff80"/>
<polygon points="481.5,236.0 489.9,219.1 491.5,220.8 491.8,213.4 486.2,218.2 488.5,218.4 480.1,235.3" fill="#80ff80"/>
<polygon points="481.6,250.5 487.7,232.9 489.5,234.3 488.9,226.9 483.9,232.4 486.2,232.3 480.1,250.0" fill="#80ff80"/>
<polygon points="481.6,265.0 485.8,243.5 487.7,244.8 486.1,237.5 481.9,243.6 484.2,243.2 480.0,264.7" fill="#ffff00"/>
<polygon points="481.6,279.5 484.7,255.5 486.7,256.6 484.6,249.5 480.8,255.9 483.1,255.3 480.0,279.3" fill="#ffff00"/>
<polygon points="481.6,294.1 486.2,269.3 488.2,270.5 486.5,263.3 482.4,269.4 484.6,269.0 480.0,293.8" fill="#ffff00"/>
<polygon points="481.6,308.6 483.8,282.7 485.9,283.7 483.5,276.6 480.0,283.2 482.2,282.5 480.0,308.5" fill="#ffff00"/>
<polygon points="481.6,337.5 477.6,313.0 479.8,313.5 475.8,307.3 474.0,314.5 476.0,313.3 480.0,337.8" fill="#ffff00"/>
<polygon points="481.6,352.2 479.5,328.7 481.8,329.4 478.2,322.8 475.9,329.9 478.0,328.9 480.0,352.3" fill="#ffff00"/>
<polygon points="481.6,366.8 480.9,340.0 483.1,340.7 479.9,334.0 477.2,340.9 479.3,340.0 480.0,366.8" fill="#ffff00"/>
<polygon points="481.6,381.4 483.5,355.8 485.6,356.8 483.1,349.8 479.7,356.3 481.9,355.7 480.0,381.3" fill="#ffff00"/>
<polygon points="481.6,396.1 485.7,370.9 487.7,372.0 485.9,364.9 481.9,371.1 484.2,370.6 480.0,395.8" fill="#ffff00"/>
<polygon points="481.6,410.7 486.0,387.7 487.9,389.0 486.3,381.7 482.1,387.8 484.4,387.4 480.0,410.4" fill="#ffff00"/>
<polygon points="481.6,425.2 486.0,400.6 488.0,401.8 486.3,394.6 482.2,400.8 484.5,400.3 480.0,424.9" fill="#ffff00"/>
<polygon points="481.6,439.8 485.2,416.9 487.2,418.0 485.3,410.9 481.4,417.1 483.6,416.6 480.0,439.5" fill="#ffff00"/>
<polygon points="481.6,454.3 482.3,435.2 484.4,436.1 481.7,429.2 478.5,435.9 480.7,435.2 480.0,454.2" fill="#80ff80"/>
<polygon points="490.5,116.2 496.7,116.9 494.1,121.4" fill="#0000ff"/>
<polygon points="490.9,129.4 497.4,131.6 493.4,135.7" fill="#0000ff"/>
<polygon points="491.1,146.2 496.4,146.3 494.4,150.2" fill="#0000ff"/>
<polygon points="495.7,160.3 496.5,163.0 494.3,162.7" fill="#0000ff"/>
<polygon points="495.8,178.1 497.7,176.9 498.2,179.1 502.2,172.9 494.9,174.2 496.8,175.5 495.0,176.7" fill="#0080ff"/>
<polygon points="495.8,192.6 505.1,186.7 505.6,188.9 509.7,182.8 502.4,184.0 504.2,185.3 495.0,191.3" fill="#00ffff"/>
<polygon points="495.8,207.2 506.8,200.2 507.3,202.5 511.4,196.3 504.1,197.5 505.9,198.9 495.0,205.9" fill="#00ffff"/>
<polygon points="496.0,221.7 504.5,213.2 505.5,215.3 508.2,208.4 501.3,211.1 503.4,212.1 494.8,220.5" fill="#00ffff"/>
<polygon points="496.1,236.1 503.3,225.8 504.6,227.7 506.1,220.5 499.8,224.3 502.0,224.9 494.7,235.2" fill="#00ffff"/>
<polygon points="496.1,250.6 502.4,239.0 503.9,240.7 504.6,233.3 498.8,237.9 501.0,238.2 494.7,249.9" fill="#00ffff"/>
<polygon points="496.2,264.9 498.1,251.1 500.1,252.2 498.1,245.0 494.3,251.4 496.5,250.8 494.6,264.7" fill="#80ff80"/>
<polygon points="496.2,279.3 494.4,259.8 496.6,260.4 493.0,253.9 490.7,260.9 492.8,259.9 494.6,279.5" fill="#80ff80"/>
<polygon points="496.2,293.9 495.0,273.4 497.2,274.1 493.9,267.5 491.3,274.4 493.4,273.5 494.6,294.0" fill="#ffff00"/>
<polygon points="496.2,308.6 499.3,282.7 501.3,283.7 499.2,276.6 495.5,283.0 497.7,282.5 494.6,308.4" fill="#ffff00"/>
<polygon points="496.2,352.1 493.2,330.1 495.4,330.6 491.6,324.2 489.6,331.4 491.6,330.3 494.6,352.3" fill="#ffff00"/>
<polygon points="496.2,366.7 493.6,347.0 495.8,347.6 492.0,341.2 490.0,348.3 492.0,347.2 494.6,366.9" fill="#80ff80"/>
<polygon points="496.2,381.4 497.6,354.8 499.7,355.7 497.1,348.8 493.8,355.4 496.0,354.7 494.6,381.3" fill="#ffff00"/>
<polygon points="496.2,396.1 499.2,372.0 501.3,373.1 499.2,366.0 495.4,372.3 497.7,371.8 494.6,395.8" fill="#ffff00"/>
<polygon points="496.2,410.6 499.8,385.0 501.9,386.1 499.9,378.9 496.0,385.2 498.3,384.7 494.6,410.4" fill="#ffff00"/>
<polygon points="496.2,425.2 498.8,398.5 500.9,399.5 498.6,392.5 495.0,399.0 497.2,398.4 494.6,425.0" fill="#ffff00"/>
<polygon points="496.2,439.7 498.5,413.9 500.5,414.9 498.2,407.9 494.7,414.4 496.9,413.8 494.6,439.6" fill="#ffff00"/>
<polygon points="496.2,454.2 494.8,434.6 497.0,435.3 493.6,428.7 491.1,435.7 493.2,434.8 494.6,454.3" fill="#80ff80"/>
<polygon points="505.0,116.4 511.2,116.8 508.8,121.4" fill="#0000ff"/>
<polygon points="507.5,160.6 511.0,161.7 509.0,164.0" fill="#0000ff"/>
<polygon points="510.5,178.0 511.6,177.0 512.4,179.2 515.5,172.4 508.5,174.8 510.5,175.8 509.4,176.8" fill="#0080ff"/>
<polygon points="510.4,192.6 519.2,186.8 519.7,189.0 523.7,182.8 516.4,184.1 518.3,185.4 509.5,191.3" fill="#00ffff"/>
<polygon points="510.4,207.2 520.0,201.2 520.5,203.4 524.7,197.3 517.4,198.4 519.2,199.8 509.6,205.9" fill="#00ffff"/>
<polygon points="510.4,221.8 516.0,217.9 516.6,220.1 520.5,213.8 513.2,215.3 515.1,216.6 509.5,220.5" fill="#0080ff"/>
<polygon points="510.4,236.3 513.9,233.8 514.5,236.1 518.3,229.7 511.0,231.3 513.0,232.5 509.5,235.0" fill="#0080ff"/>
<polygon points="510.4,250.9 514.9,247.7 515.5,250.0 519.4,243.7 512.1,245.1 514.0,246.4 509.5,249.6" fill="#0080ff"/>
<polygon points="510.8,279.2 508.2,265.8 510.5,266.2 506.3,260.1 504.7,267.3 506.6,266.1 509.2,279.5" fill="#00ffff"/>
<polygon points="510.7,293.7 503.8,272.2 506.1,272.3 501.2,266.8 500.5,274.1 502.3,272.7 509.2,294.2" fill="#ffff00"/>
<polygon points="510.7,366.6 505.7,351.7 508.0,351.8 503.0,346.3 502.4,353.7 504.2,352.2 509.2,367.1" fill="#80ff80"/>
<polygon points="510.8,381.4 511.2,361.9 513.4,362.7 510.6,355.9 507.5,362.6 509.6,361.8 509.2,381.4" fill="#80ff80"/>
<polygon points="510.8,396.1 514.3,376.7 516.3,377.9 514.6,370.7 510.5,376.8 512.7,376.4 509.2,395.8" fill="#80ff80"/>
<polygon points="510.7,410.7 516.4,391.5 518.2,392.9 517.3,385.5 512.5,391.2 514.8,391.0 509.2,410.3" fill="#80ff80"/>
<polygon points="510.8,425.2 512.8,405.6 514.9,406.7 512.7,399.6 509.0,406.0 511.3,405.5 509.2,425.0" fill="#80ff80"/>
<polygon points="510.8,439.6 509.6,415.3 511.8,416.0 508.5,409.4 505.9,416.3 508.0,415.4 509.2,439.7" fill="#ffff00"/>
<polygon points="510.8,454.0 504.8,432.5 507.1,432.7 502.5,426.9 501.4,434.3 503.3,432.9 509.2,454.4" fill="#ffff00"/>
<polygon points="520.1,104.6 524.6,102.5 524.6,106.6" fill="#0000ff"/>
<polygon points="518.9,116.0 526.0,116.5 523.1,121.7" fill="#0000ff"/>
<polygon points="525.3,177.8 526.9,174.9 528.3,176.7 529.1,169.3 523.2,173.8 525.5,174.1 523.9,177.0" fill="#0080ff"/>
<polygon points="525.1,192.6 529.1,189.3 529.8,191.5 533.3,185.0 526.1,186.9 528.1,188.1 524.1,191.3" fill="#0080ff"/>
<polygon points="524.9,207.2 528.9,205.2 529.1,207.4 533.8,201.6 526.4,202.2 528.1,203.7 524.2,205.8" fill="#0080ff"/>
<polygon points="524.9,221.8 527.2,220.8 527.3,223.1 532.3,217.5 524.9,217.7 526.5,219.3 524.2,220.4" fill="#0080ff"/>
<polygon points="530.0,233.0 525.8,238.1 523.3,233.2" fill="#0000ff"/>
<polygon points="524.7,251.0 525.8,250.8 525.4,253.1 531.6,248.9 524.3,247.3 525.5,249.3 524.4,249.5" fill="#0080ff"/>
<polygon points="529.2,263.2 525.3,266.9 523.8,262.7" fill="#0000ff"/>
<polygon points="527.3,274.7 526.7,280.6 522.4,278.2" fill="#0000ff"/>
<polygon points="525.4,381.5 526.8,365.4 528.9,366.4 526.6,359.4 523.0,365.9 525.2,365.3 523.8,381.3" fill="#80ff80"/>
<polygon points="525.3,396.2 529.8,381.4 531.6,382.8 530.8,375.5 526.0,381.1 528.3,380.9 523.8,395.7" fill="#80ff80"/>
<polygon points="525.2,411.0 533.8,400.3 535.0,402.3 537.0,395.1 530.4,398.6 532.6,399.3 523.9,410.0" fill="#80ff80"/>
<polygon points="525.4,425.2 527.0,413.4 529.0,414.5 527.1,407.4 523.2,413.7 525.4,413.2 523.8,425.0" fill="#00ffff"/>
<polygon points="525.2,439.1 517.1,429.7 519.3,428.9 512.7,425.7 514.8,432.8 515.9,430.7 524.0,440.2" fill="#00ffff"/>
<polygon points="525.1,453.7 515.6,443.7 517.7,442.8 510.9,439.9 513.4,446.9 514.4,444.8 524.0,454.8" fill="#80ff80"/>
<polygon points="539.5,118.4 538.7,117.9 540.5,116.5 533.1,115.6 537.5,121.6 537.9,119.3 538.7,119.8" fill="#0080ff"/>
<polygon points="539.9,133.5 538.7,129.4 541.0,129.5 536.1,123.9 535.3,131.3 537.1,129.8 538.4,133.9" fill="#0080ff"/>
<polygon points="539.9,177.7 542.8,169.6 544.5,171.1 544.0,163.7 539.0,169.1 541.3,169.1 538.4,177.1" fill="#00ffff"/>
<polygon points="539.8,192.5 542.7,188.7 543.9,190.7 545.7,183.5 539.2,187.0 541.4,187.7 538.5,191.5" fill="#0080ff"/>
<polygon points="545.6,205.0 539.8,209.5 538.5,203.6" fill="#0080ff"/>
<polygon points="543.9,219.0 540.1,223.3 538.2,218.9" fill="#0000ff"/>
<polygon points="544.1,233.2 540.3,238.0 538.0,233.4" fill="#0000ff"/>
<polygon points="541.1,250.2 539.1,251.2 539.1,249.3" fill="#0000ff"/>
<polygon points="542.1,263.8 539.6,266.2 538.7,263.5" fill="#0000ff"/>
<polygon points="543.1,276.8 540.3,281.2 538.0,277.6" fill="#0000ff"/>
<polygon points="539.4,438.9 525.5,434.3 526.9,432.5 519.5,433.2 525.1,438.1 525.0,435.8 538.9,440.4" fill="#80ff80"/>
<polygon points="539.5,453.5 527.4,448.0 529.1,446.4 521.6,446.2 526.6,451.7 526.7,449.4 538.8,455.0" fill="#00ffff"/>
<polygon points="554.5,177.7 558.9,165.0 560.7,166.5 560.1,159.1 555.1,164.5 557.4,164.5 553.0,177.1" fill="#00ffff"/>
<polygon points="554.4,192.3 557.7,186.1 559.2,187.9 559.7,180.5 554.0,185.1 556.2,185.4 553.0,191.6" fill="#0080ff"/>
<polygon points="554.4,207.0 556.0,204.8 557.3,206.7 559.0,199.5 552.6,203.2 554.8,203.8 553.1,206.1" fill="#0080ff"/>
<polygon points="558.0,275.6 555.5,281.3 552.0,277.4" fill="#0000ff"/>
<polygon points="554.2,294.6 555.2,293.9 555.8,296.1 559.5,289.7 552.3,291.3 554.2,292.6 553.2,293.3" fill="#0080ff"/>
<polygon points="569.1,177.5 569.6,174.7 571.6,175.9 569.8,168.7 565.7,174.9 568.0,174.5 567.5,177.3" fill="#0080ff"/>
<polygon points="569.1,192.2 569.6,190.0 571.5,191.3 570.3,184.0 565.8,189.9 568.1,189.6 567.5,191.8" fill="#0080ff"/>
</g>
<g stroke="#000" stroke-width="0.42" fill="#fff">
<path fill-rule="evenodd" d="M63.5 57.4H625.6V515.2H63.5Z M69.6 62.5H620.5V509.5H69.6Z"/>
</g>
<g stroke="#000" stroke-width="0.42" fill="none">
<line x1="63.5" y1="57.4" x2="69.6" y2="62.5"/>
<line x1="625.6" y1="57.4" x2="620.5" y2="62.5"/>
<line x1="63.5" y1="515.2" x2="69.6" y2="509.5"/>
<line x1="625.6" y1="515.2" x2="620.5" y2="509.5"/>
<line x1="118.0" y1="57.4" x2="118.0" y2="62.5"/>
<line stroke-width="0.8" x1="118.0" y1="60.0" x2="172.0" y2="60.0"/>
<line x1="172.0" y1="57.4" x2="172.0" y2="62.5"/>
<line x1="226.0" y1="57.4" x2="226.0" y2="62.5"/>
<line stroke-width="0.8" x1="226.0" y1="60.0" x2="280.0" y2="60.0"/>
<line x1="280.0" y1="57.4" x2="280.0" y2="62.5"/>
<line x1="334.0" y1="57.4" x2="334.0" y2="62.5"/>
<line stroke-width="0.8" x1="334.0" y1="60.0" x2="388.0" y2="60.0"/>
<line x1="388.0" y1="57.4" x2="388.0" y2="62.5"/>
<line x1="442.0" y1="57.4" x2="442.0" y2="62.5"/>
<line stroke-width="0.8" x1="442.0" y1="60.0" x2="496.0" y2="60.0"/>
<line x1="496.0" y1="57.4" x2="496.0" y2="62.5"/>
<line x1="550.0" y1="57.4" x2="550.0" y2="62.5"/>
<line stroke-width="0.8" x1="550.0" y1="60.0" x2="604.0" y2="60.0"/>
<line x1="604.0" y1="57.4" x2="604.0" y2="62.5"/>
<line x1="614.4" y1="57.4" x2="614.4" y2="62.5"/>
<line stroke-width="0.8" x1="614.4" y1="60.0" x2="620.5" y2="60.0"/>
<line stroke-width="0.8" x1="67.6" y1="512.4" x2="118.0" y2="512.4"/>
<line x1="118.0" y1="509.5" x2="118.0" y2="515.2"/>
<line x1="172.0" y1="509.5" x2="172.0" y2="515.2"/>
<line stroke-width="0.8" x1="172.0" y1="512.4" x2="226.0" y2="512.4"/>
<line x1="226.0" y1="509.5" x2="226.0" y2="515.2"/>
<line x1="280.0" y1="509.5" x2="280.0" y2="515.2"/>
<line stroke-width="0.8" x1="280.0" y1="512.4" x2="334.0" y2="512.4"/>
<line x1="334.0" y1="509.5" x2="334.0" y2="515.2"/>
<line x1="388.0" y1="509.5" x2="388.0" y2="515.2"/>
<line stroke-width="0.8" x1="388.0" y1="512.4" x2="442.0" y2="512.4"/>
<line x1="442.0" y1="509.5" x2="442.0" y2="515.2"/>
<line x1="496.0" y1="509.5" x2="496.0" y2="515.2"/>
<line stroke-width="0.8" x1="496.0" y1="512.4" x2="550.0" y2="512.4"/>
<line x1="550.0" y1="509.5" x2="550.0" y2="515.2"/>
<line x1="604.0" y1="509.5" x2="604.0" y2="515.2"/>
<line stroke-width="0.8" x1="604.0" y1="512.4" x2="614.4" y2="512.4"/>
<line x1="614.4" y1="509.5" x2="614.4" y2="515.2"/>
<line x1="63.5" y1="70.4" x2="69.6" y2="70.4"/>
<line stroke-width="0.8" x1="66.5" y1="70.4" x2="66.5" y2="84.4"/>
<line x1="63.5" y1="84.4" x2="69.6" y2="84.4"/>
<line x1="63.5" y1="129.3" x2="69.6" y2="129.3"/>
<line stroke-width="0.8" x1="66.5" y1="129.3" x2="66.5" y2="174.3"/>
<line x1="63.5" y1="174.3" x2="69.6" y2="174.3"/>
<line x1="63.5" y1="219.2" x2="69.6" y2="219.2"/>
<line stroke-width="0.8" x1="66.5" y1="219.2" x2="66.5" y2="264.2"/>
<line x1="63.5" y1="264.2" x2="69.6" y2="264.2"/>
<line x1="63.5" y1="309.1" x2="69.6" y2="309.1"/>
<line stroke-width="0.8" x1="66.5" y1="309.1" x2="66.5" y2="354.1"/>
<line x1="63.5" y1="354.1" x2="69.6" y2="354.1"/>
<line x1="63.5" y1="398.8" x2="69.6" y2="398.8"/>
<line stroke-width="0.8" x1="66.5" y1="398.8" x2="66.5" y2="443.5"/>
<line x1="63.5" y1="443.5" x2="69.6" y2="443.5"/>
<line x1="63.5" y1="479.4" x2="69.6" y2="479.4"/>
<line stroke-width="0.8" x1="66.5" y1="479.4" x2="66.5" y2="511.5"/>
<line stroke-width="0.8" x1="623.0" y1="57.4" x2="623.0" y2="70.4"/>
<line x1="620.5" y1="70.4" x2="625.6" y2="70.4"/>
<line x1="620.5" y1="84.4" x2="625.6" y2="84.4"/>
<line stroke-width="0.8" x1="623.0" y1="84.4" x2="623.0" y2="129.3"/>
<line x1="620.5" y1="129.3" x2="625.6" y2="129.3"/>
<line x1="620.5" y1="174.3" x2="625.6" y2="174.3"/>
<line stroke-width="0.8" x1="623.0" y1="174.3" x2="623.0" y2="219.2"/>
<line x1="620.5" y1="219.2" x2="625.6" y2="219.2"/>
<line x1="620.5" y1="264.2" x2="625.6" y2="264.2"/>
<line stroke-width="0.8" x1="623.0" y1="264.2" x2="623.0" y2="309.1"/>
<line x1="620.5" y1="309.1" x2="625.6" y2="309.1"/>
<line x1="620.5" y1="354.1" x2="625.6" y2="354.1"/>
<line stroke-width="0.8" x1="623.0" y1="354.1" x2="623.0" y2="398.8"/>
<line x1="620.5" y1="398.8" x2="625.6" y2="398.8"/>
<line x1="620.5" y1="443.5" x2="625.6" y2="443.5"/>
<line stroke-width="0.8" x1="623.0" y1="443.5" x2="623.0" y2="479.4"/>
<line x1="620.5" y1="479.4" x2="625.6" y2="479.4"/>
</g>
<line x1="63.5" y1="57.4" x2="63.5" y2="515.2" stroke="#777" stroke-width="0.85" stroke-dasharray="6.3 5.75" stroke-dashoffset="5.7"/>
<g stroke="#000" stroke-width="2">
<line x1="64.0" y1="51.3" x2="64.0" y2="57.0"/>
<line x1="64.0" y1="515.0" x2="64.0" y2="520.7"/>
<line x1="172.0" y1="51.3" x2="172.0" y2="57.0"/>
<line x1="172.0" y1="515.0" x2="172.0" y2="520.7"/>
<line x1="280.0" y1="51.3" x2="280.0" y2="57.0"/>
<line x1="280.0" y1="515.0" x2="280.0" y2="520.7"/>
<line x1="388.0" y1="51.3" x2="388.0" y2="57.0"/>
<line x1="388.0" y1="515.0" x2="388.0" y2="520.7"/>
<line x1="496.0" y1="51.3" x2="496.0" y2="57.0"/>
<line x1="496.0" y1="515.0" x2="496.0" y2="520.7"/>
<line x1="604.0" y1="51.3" x2="604.0" y2="57.0"/>
<line x1="604.0" y1="515.0" x2="604.0" y2="520.7"/>
<line x1="58.1" y1="84.2" x2="63.3" y2="84.2"/>
<line x1="625.8" y1="84.2" x2="631.2" y2="84.2"/>
<line x1="58.1" y1="174.2" x2="63.3" y2="174.2"/>
<line x1="625.8" y1="174.2" x2="631.2" y2="174.2"/>
<line x1="58.1" y1="264.2" x2="63.3" y2="264.2"/>
<line x1="625.8" y1="264.2" x2="631.2" y2="264.2"/>
<line x1="58.1" y1="354.2" x2="63.3" y2="354.2"/>
<line x1="625.8" y1="354.2" x2="631.2" y2="354.2"/>
<line x1="58.1" y1="443.2" x2="63.3" y2="443.2"/>
<line x1="625.8" y1="443.2" x2="631.2" y2="443.2"/>
</g>
<text x="52.8" y="92.3" text-anchor="end" font-size="17.2">37<tspan dy="-8.7" dx="0.8" font-size="13">o</tspan><tspan dy="8.7" dx="0.6">N</tspan></text>
<text x="55.8" y="178.9" text-anchor="end" font-size="13.8">50<tspan dx='0.7'>’</tspan></text>
<text x="55.8" y="268.8" text-anchor="end" font-size="13.8">40<tspan dx='0.7'>’</tspan></text>
<text x="55.8" y="358.8" text-anchor="end" font-size="13.8">30<tspan dx='0.7'>’</tspan></text>
<text x="55.8" y="448.0" text-anchor="end" font-size="13.8">20<tspan dx='0.7'>’</tspan></text>
<text x="64.8" y="543.2" text-anchor="middle" font-size="17.2">123<tspan dy="-8.7" dx="0.8" font-size="13">o</tspan><tspan dy="8.7" dx="0.6">W</tspan></text>
<text x="496.4" y="543.2" text-anchor="middle" font-size="17.2">122<tspan dy="-8.7" dx="0.8" font-size="13">o</tspan><tspan dy="8.7" dx="0.6">W</tspan></text>
<text x="172.6" y="533" text-anchor="middle" font-size="14">45<tspan dx='0.7'>’</tspan></text>
<text x="280.8" y="533" text-anchor="middle" font-size="14">30<tspan dx='0.7'>’</tspan></text>
<text x="389.0" y="533" text-anchor="middle" font-size="14">15<tspan dx='0.7'>’</tspan></text>
<text x="605.4" y="533" text-anchor="middle" font-size="14">45<tspan dx='0.7'>’</tspan></text>
<text x="348" y="24.2" text-anchor="middle" font-size="20.15">MNTY Totals 25hr mean: From 23−Oct−2010 21:00</text>
<text x="344" y="47" text-anchor="middle" font-size="20.15">to 24−Oct−2010 21:00 GMT+0.000</text>
<text x="504.8" y="84.9" font-size="15.3" font-weight="bold" letter-spacing="0.4">25 cm/s</text>
<polygon points="568.2,77.9 580.3,77.9 579.6,76 585.8,78.7 579.6,81.4 580.3,79.5 568.2,79.5" fill="#000"/>
<g stroke="#000" stroke-width="2"><line x1="548.6" y1="348.4" x2="598.9" y2="348.4"/><line x1="549.5" y1="344" x2="549.5" y2="352.9"/><line x1="598" y1="344" x2="598" y2="352.9"/></g>
<text x="574.1" y="344.5" text-anchor="middle" font-size="15.2" font-weight="bold" letter-spacing="0.35">10 km</text>
<rect x="640.2" y="57.10" width="20.7" height="57.46" fill="#800000"/>
<rect x="640.2" y="114.26" width="20.7" height="57.46" fill="#ff0000"/>
<rect x="640.2" y="171.42" width="20.7" height="57.46" fill="#ff8000"/>
<rect x="640.2" y="228.59" width="20.7" height="57.46" fill="#ffff00"/>
<rect x="640.2" y="285.75" width="20.7" height="57.46" fill="#80ff80"/>
<rect x="640.2" y="342.91" width="20.7" height="57.46" fill="#00ffff"/>
<rect x="640.2" y="400.07" width="20.7" height="57.46" fill="#0080ff"/>
<rect x="640.2" y="457.24" width="20.7" height="57.46" fill="#0000ff"/>
<rect x="640.2" y="57.1" width="20.7" height="457.3" fill="none" stroke="#000" stroke-width="1"/>
<text x="663.7" y="62.9" font-size="14" font-weight="bold">80</text>
<text x="663.7" y="120.1" font-size="14" font-weight="bold">70</text>
<text x="663.7" y="177.2" font-size="14" font-weight="bold">60</text>
<text x="663.7" y="234.4" font-size="14" font-weight="bold">50</text>
<text x="663.7" y="291.6" font-size="14" font-weight="bold">40</text>
<text x="663.7" y="348.7" font-size="14" font-weight="bold">30</text>
<text x="663.7" y="405.9" font-size="14" font-weight="bold">20</text>
<text x="663.7" y="463.0" font-size="14" font-weight="bold">10</text>
<text x="663.7" y="520.2" font-size="14" font-weight="bold">0</text>
<text x="650.8" y="530.7" text-anchor="middle" font-size="14">cm/s</text>
<text transform="translate(693.6,440.2) rotate(-90)" font-size="14">NOTE: Data outside color range will be saturated.</text>
</svg></body></html>
